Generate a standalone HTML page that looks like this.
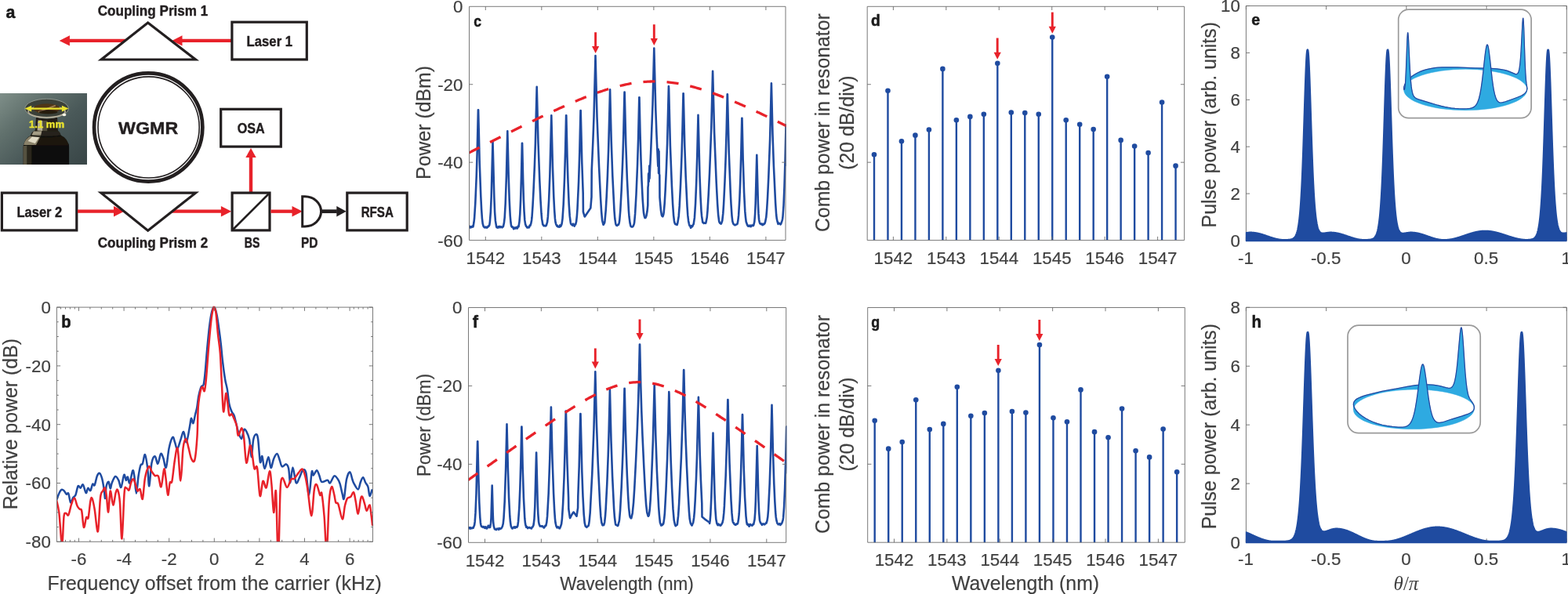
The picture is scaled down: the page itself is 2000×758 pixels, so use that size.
<!DOCTYPE html>
<html lang="en"><head><meta charset="utf-8"><title>Figure</title>
<style>
html,body{margin:0;padding:0;background:#fff;}
body{width:2000px;height:758px;overflow:hidden;font-family:"Liberation Sans",sans-serif;}
svg{display:block;}
</style></head><body>
<svg width="2000" height="758" viewBox="0 0 2000 758">
<rect width="2000" height="758" fill="#fff"/>
<g id="panel-a">
<defs>
<linearGradient id="phbg" x1="0" y1="0" x2="1" y2="0.9">
<stop offset="0" stop-color="#7f8f89"/><stop offset="0.3" stop-color="#61716d"/><stop offset="0.6" stop-color="#4a5959"/><stop offset="1" stop-color="#3a4748"/>
</linearGradient>
<linearGradient id="post" x1="0" y1="0" x2="1" y2="0">
<stop offset="0" stop-color="#57523f"/><stop offset="0.1" stop-color="#6f6956"/><stop offset="0.2" stop-color="#2a271d"/><stop offset="0.45" stop-color="#0c0b08"/><stop offset="1" stop-color="#11120e"/>
</linearGradient>
<linearGradient id="sh2" x1="0" y1="0" x2="1" y2="0">
<stop offset="0" stop-color="#6d6753"/><stop offset="0.12" stop-color="#d5cfb8"/><stop offset="0.3" stop-color="#8f8770"/><stop offset="0.5" stop-color="#2a261c"/><stop offset="1" stop-color="#15150f"/>
</linearGradient>
<linearGradient id="neck" x1="0" y1="0" x2="1" y2="0">
<stop offset="0" stop-color="#6a6350"/><stop offset="0.2" stop-color="#c9c2ab"/><stop offset="0.45" stop-color="#6b6450"/><stop offset="0.7" stop-color="#1d1a12"/><stop offset="1" stop-color="#2b2a22"/>
</linearGradient>
<filter id="blur1" x="-10%" y="-10%" width="120%" height="120%"><feGaussianBlur stdDeviation="0.75"/></filter>
<clipPath id="phclip"><rect x="0" y="119" width="111" height="91"/></clipPath>
</defs>
<rect x="0" y="119" width="111" height="91" fill="url(#phbg)"/>
<g clip-path="url(#phclip)"><g filter="url(#blur1)">
<path d="M29.6 213.5 L29.6 187.4 Q29.9 182.5 33.6 180.6 L84.4 180.6 Q88.1 182.5 88.1 187.4 L88.1 213.5 Z" fill="#0c0b08"/>
<path d="M29.6 213.5 L29.6 186.2 L34.6 185.6 L34.6 213.5 Z" fill="#5a5543" opacity="0.95"/>
<path d="M34.6 213.5 L34.6 185.6 L40.4 185.6 L40.4 213.5 Z" fill="#2d2a20" opacity="0.9"/>
<path d="M29.9 185.6 Q31.7 176.3 39.8 172.5 L77.6 172.5 Q85.7 176.3 87.9 185.6 Z" fill="#1a1811"/>
<path d="M30.1 184.9 Q32.0 176.5 39.8 172.9 L52.2 172.9 L46.0 184.9 Z" fill="#8a826b"/>
<path d="M35.5 180.0 L41.0 174.4 L50.3 174.4 L44.8 183.1 Z" fill="#e0dac4"/>
<path d="M38.9 173.5 Q39.8 168.2 44.8 166.3 L73.3 166.3 Q77.0 168.2 77.8 173.5 Z" fill="#25221a"/>
<path d="M40.4 172.5 L42.9 167.6 L53.4 167.0 L52.2 172.5 Z" fill="#a49d85"/>
<path d="M39.2 173.2 Q58.4 176.3 77.6 173.2" stroke="#100e09" stroke-width="1.2" fill="none" opacity="0.9"/>
<path d="M44.8 167.3 L46.0 149.6 Q59.6 153.3 73.0 149.6 L74.0 167.3 Z" fill="#201d15"/>
<path d="M47.5 166.6 L48.5 153.3 L54.4 153.9 L54.4 167.0 Z" fill="#b3ac96"/>
<path d="M54.4 167.0 L54.4 153.9 L60.2 153.9 L60.2 167.3 Z" fill="#5d5745" opacity="0.8"/>
<ellipse cx="59.6" cy="138.5" rx="27.8" ry="12.3" fill="#3b4039" stroke="#939c93" stroke-width="0.9"/>
<ellipse cx="59.6" cy="142.5" rx="23.5" ry="7.4" fill="none" stroke="#bcb59e" stroke-width="1.8" opacity="0.9"/>
<ellipse cx="59.6" cy="138.6" rx="17" ry="6.4" fill="#4f3418"/>
<path d="M49.1 142.8 L70.8 134.7" stroke="#b08d5c" stroke-width="1.8" opacity="0.8"/>
<ellipse cx="61.5" cy="143.0" rx="12" ry="2.6" fill="#1e160b" opacity="0.8"/>
<ellipse cx="81.9" cy="146.5" rx="2.4" ry="1.8" fill="#fbf8e8"/>
</g></g>
<path d="M38 138.6H81" stroke="#e9e22e" stroke-width="2.4" fill="none"/>
<path d="M31.6 138.6L40.2 134.7V142.5Z" fill="#e9e22e"/>
<path d="M87.5 138.6L78.9 134.7V142.5Z" fill="#e9e22e"/>
<text x="37" y="163" font-family="'Liberation Sans', sans-serif" font-size="12" font-weight="bold" fill="#e9e22e" stroke="#e9e22e" stroke-width="0.4" stroke-linejoin="round" textLength="45" lengthAdjust="spacingAndGlyphs">1.1 mm</text>
<text x="7.4" y="22.9" font-family="'Liberation Sans', sans-serif" font-size="22.5" font-weight="bold" fill="#1a1a1a" stroke="#1a1a1a" stroke-width="0.55" stroke-linejoin="round" textLength="11.89" lengthAdjust="spacingAndGlyphs">a</text>
<path d="M160 51.9H88.45" stroke="#e8222a" stroke-width="4.3" fill="none"/>
<path d="M88.95 45.2L75.65 51.9L88.95 58.6Z" fill="#e8222a"/>
<path d="M296 51.9H232" stroke="#e8222a" stroke-width="4.3" fill="none"/>
<path d="M232.5 45.2L219.2 51.9L232.5 58.6Z" fill="#e8222a"/>
<path d="M188.65 26.9L124.6 77.55L254.1 77.55 Z" fill="#231f20"/>
<path d="M188.67 30.9L133.66 74.4L244.88 74.4 Z" fill="#fff"/>
<text x="124.7" y="20.3" font-family="'Liberation Sans', sans-serif" font-size="17.6" font-weight="bold" fill="#231f20" stroke="#231f20" stroke-width="0.4" stroke-linejoin="round" textLength="140.6" lengthAdjust="spacingAndGlyphs">Coupling Prism 1</text>
<rect x="295.9" y="28.2" width="95.4" height="47.75" fill="#fff" stroke="#231f20" stroke-width="3.2"/>
<text x="314.6" y="58.9" font-family="'Liberation Sans', sans-serif" font-size="17.6" font-weight="bold" fill="#231f20" stroke="#231f20" stroke-width="0.4" stroke-linejoin="round" textLength="58.5" lengthAdjust="spacingAndGlyphs">Laser 1</text>
<circle cx="189.2" cy="162.45" r="69.15" fill="#fff" stroke="#231f20" stroke-width="4.7"/>
<circle cx="189.6" cy="162.45" r="64.6" fill="none" stroke="#231f20" stroke-width="1.6"/>
<text x="151.1" y="170.9" font-family="'Liberation Sans', sans-serif" font-size="21.7" font-weight="bold" fill="#231f20" stroke="#231f20" stroke-width="0.4" stroke-linejoin="round" textLength="76.2" lengthAdjust="spacingAndGlyphs">WGMR</text>
<rect x="281.7" y="139.3" width="76.6" height="47.8" fill="#fff" stroke="#231f20" stroke-width="3.2"/>
<text x="302.7" y="170.1" font-family="'Liberation Sans', sans-serif" font-size="17.6" font-weight="bold" fill="#231f20" stroke="#231f20" stroke-width="0.4" stroke-linejoin="round" textLength="35" lengthAdjust="spacingAndGlyphs">OSA</text>
<path d="M320 246V200.4" stroke="#e8222a" stroke-width="4.4" fill="none"/>
<path d="M313.3 200.9L320 188.9L326.7 200.9Z" fill="#e8222a"/>
<rect x="2.4" y="246.1" width="95.4" height="47.8" fill="#fff" stroke="#231f20" stroke-width="3.2"/>
<text x="21.4" y="276.5" font-family="'Liberation Sans', sans-serif" font-size="17.6" font-weight="bold" fill="#231f20" stroke="#231f20" stroke-width="0.4" stroke-linejoin="round" textLength="57.9" lengthAdjust="spacingAndGlyphs">Laser 2</text>
<path d="M99 269.7H145.5" stroke="#e8222a" stroke-width="4.3" fill="none"/>
<path d="M145 263L158.3 269.7L145 276.4Z" fill="#e8222a"/>
<path d="M218 269.7H282.4" stroke="#e8222a" stroke-width="4.3" fill="none"/>
<path d="M281.9 263L295.2 269.7L281.9 276.4Z" fill="#e8222a"/>
<path d="M188.65 296.3L124.4 244.5L254.1 244.5 Z" fill="#231f20"/>
<path d="M188.67 292.27L133.33 247.65L245.04 247.65 Z" fill="#fff"/>
<text x="124.7" y="316.2" font-family="'Liberation Sans', sans-serif" font-size="17.6" font-weight="bold" fill="#231f20" stroke="#231f20" stroke-width="0.4" stroke-linejoin="round" textLength="140.6" lengthAdjust="spacingAndGlyphs">Coupling Prism 2</text>
<rect x="296.1" y="246.1" width="47.9" height="47.8" fill="#fff" stroke="#231f20" stroke-width="3.2"/>
<path d="M296.5 293.5L343.6 246.5" stroke="#231f20" stroke-width="2.6" fill="none"/>
<text x="311.75" y="316.2" font-family="'Liberation Sans', sans-serif" font-size="17.6" font-weight="bold" fill="#231f20" stroke="#231f20" stroke-width="0.4" stroke-linejoin="round" textLength="19.6" lengthAdjust="spacingAndGlyphs">BS</text>
<path d="M345.4 269.7H373" stroke="#e8222a" stroke-width="4.3" fill="none"/>
<path d="M372.5 263L385.8 269.7L372.5 276.4Z" fill="#e8222a"/>
<path d="M385.7 250.8H389A20.6 19.05 0 0 1 389 288.9H385.7Z" fill="#fff" stroke="#231f20" stroke-width="3" stroke-linejoin="miter"/>
<text x="383.9" y="316.2" font-family="'Liberation Sans', sans-serif" font-size="17.6" font-weight="bold" fill="#231f20" stroke="#231f20" stroke-width="0.4" stroke-linejoin="round" textLength="21.5" lengthAdjust="spacingAndGlyphs">PD</text>
<path d="M410.5 269.7H429.8" stroke="#231f20" stroke-width="4.7" fill="none"/>
<path d="M429.3 263L441.7 269.7L429.3 276.4Z" fill="#231f20"/>
<rect x="442.8" y="246.1" width="76.4" height="47.8" fill="#fff" stroke="#231f20" stroke-width="3.2"/>
<text x="460.7" y="276.7" font-family="'Liberation Sans', sans-serif" font-size="17.6" font-weight="bold" fill="#231f20" stroke="#231f20" stroke-width="0.4" stroke-linejoin="round" textLength="41.2" lengthAdjust="spacingAndGlyphs">RFSA</text>
</g>
<g id="panel-b">
<clipPath id="clipb"><rect x="72.4" y="390.1" width="404.1" height="301.2"/></clipPath>
<g clip-path="url(#clipb)">
<path d="M72.11 638.14C72.64 636.74 74.22 631.92 75.28 629.7C76.33 627.48 77.39 625.44 78.44 624.85C79.5 624.25 80.55 625.13 81.61 626.11C82.66 627.1 83.82 630.16 84.77 630.76C85.72 631.35 86.43 627.94 87.31 629.7C88.19 631.46 89.07 640.43 90.05 641.31C91.04 642.19 92.16 636.56 93.22 634.98C94.27 633.39 95.33 634.27 96.38 631.81C97.44 629.35 98.49 621.72 99.55 620.2C100.6 618.69 101.66 623.02 102.71 622.74C103.77 622.45 104.72 617.46 105.88 618.51C107.04 619.57 108.62 628.36 109.68 629.07C110.73 629.77 111.26 623.23 112.21 622.74C113.16 622.24 114.39 626.96 115.38 626.11C116.36 625.27 117.24 618.83 118.12 617.67C119 616.51 119.7 620.84 120.65 619.15C121.6 617.46 122.76 610.07 123.82 607.54C124.88 605.01 125.93 603.42 126.99 603.95C128.04 604.48 129.2 607.29 130.15 610.7C131.1 614.12 132.02 620.2 132.68 624.42C133.35 628.64 133.67 636.74 134.16 636.03C134.65 635.33 134.9 623.72 135.64 620.2C136.38 616.68 137.75 614.4 138.59 614.93C139.44 615.45 140 623.19 140.7 623.37C141.41 623.54 141.76 618.55 142.82 615.98C143.87 613.41 145.63 608.49 147.04 607.96C148.44 607.43 150.03 610.49 151.26 612.82C152.49 615.14 153.26 623.05 154.42 621.89C155.58 620.73 157.17 607.36 158.22 605.85C159.28 604.34 159.98 612.36 160.76 612.82C161.53 613.27 162.09 608 162.87 608.59C163.64 609.19 164.34 617.74 165.4 616.4C166.45 615.07 168.21 602.05 169.2 600.57C170.18 599.1 170.53 602.68 171.31 607.54C172.08 612.39 172.96 629.7 173.84 629.7C174.72 629.7 175.67 613.52 176.59 607.54C177.5 601.56 178.45 596.46 179.33 593.82C180.21 591.18 180.91 594 181.86 591.71C182.81 589.42 183.97 579.22 185.03 580.1C186.08 580.98 187.31 590.3 188.19 596.99C189.07 603.67 189.42 621.26 190.3 620.2C191.18 619.15 192.24 596.99 193.47 590.65C194.7 584.32 196.39 582.04 197.69 582.21C198.99 582.39 200.05 592.24 201.28 591.71C202.51 591.18 203.92 580.28 205.08 579.05C206.24 577.81 207.12 581.4 208.24 584.32C209.37 587.24 210.6 598.67 211.83 596.56C213.06 594.45 214.22 578.1 215.63 571.66C217.04 565.22 219.04 559.17 220.27 557.94C221.51 556.71 222.03 561.81 223.02 564.27C224 566.73 224.95 573.24 226.18 572.71C227.42 572.19 229.07 564.73 230.41 561.11C231.74 557.48 232.97 550.45 234.2 550.98C235.44 551.5 236.49 565.4 237.79 564.27C239.09 563.15 241 549.3 242.01 544.22C243.03 539.14 243.14 534.48 243.87 533.8C244.6 533.11 245.52 541.01 246.4 540.13C247.28 539.25 248.34 531.86 249.15 528.52C249.96 525.18 250.55 523.95 251.26 520.08C251.96 516.21 252.49 509.7 253.37 505.3C254.25 500.91 255.48 496.16 256.53 493.7C257.59 491.23 258.82 493.87 259.7 490.53C260.58 487.19 261.11 480.68 261.81 473.64C262.51 466.61 263.04 457.82 263.92 448.32C264.8 438.82 266.03 425.1 267.09 416.66C268.14 408.22 269.2 401.71 270.25 397.66C271.31 393.62 272.36 391.68 273.42 392.39C274.47 393.09 275.53 396.78 276.59 401.88C277.64 406.99 278.87 416.66 279.75 422.99C280.63 429.32 281.16 433.54 281.86 439.88C282.57 446.21 283.09 453.59 283.97 460.98C284.85 468.37 286.15 478.22 287.14 484.2C288.12 490.18 289 491.59 289.88 496.86C290.76 502.14 291.46 511.11 292.41 515.86C293.36 520.61 294.53 522.89 295.58 525.35C296.64 527.82 297.69 527.64 298.75 530.63C299.8 533.62 301.07 539.97 301.91 543.29C302.75 546.61 302.76 547.76 303.77 550.55C304.78 553.35 306.76 560.4 307.99 560.05C309.22 559.7 310.1 550.03 311.16 548.44C312.21 546.86 313.16 548.44 314.32 550.55C315.48 552.66 317.07 555.65 318.12 561.11C319.18 566.56 319.81 583.27 320.65 583.27C321.5 583.27 322.2 565.93 323.19 561.11C324.17 556.29 325.58 554.53 326.56 554.35C327.55 554.18 328.22 554.18 329.1 560.05C329.98 565.93 330.96 585.91 331.84 589.6C332.72 593.29 333.42 580.8 334.37 582.21C335.32 583.62 336.2 597.87 337.54 598.04C338.88 598.22 341.06 583.44 342.39 583.27C343.73 583.09 344.43 596.63 345.56 596.99C346.68 597.34 347.85 588.37 349.15 585.38C350.45 582.39 352.14 578.87 353.37 579.05C354.6 579.22 355.48 583.72 356.53 586.43C357.59 589.14 358.29 594.31 359.7 595.3C361.11 596.28 363.57 591.89 364.98 592.34C366.38 592.8 367.26 594.1 368.14 598.04C369.02 601.98 369.37 616.23 370.25 615.98C371.13 615.74 372.19 596.56 373.42 596.56C374.65 596.56 376.23 613.8 377.64 615.98C379.05 618.16 380.45 612.29 381.86 609.65C383.27 607.01 384.68 601.21 386.08 600.15C387.49 599.1 388.97 598.04 390.3 603.32C391.64 608.59 392.87 631.99 394.1 631.81C395.33 631.64 396.74 606.48 397.69 602.26C398.64 598.04 398.75 606.84 399.8 606.48C400.86 606.13 402.79 600.15 404.02 600.15C405.25 600.15 406.13 604.02 407.19 606.48C408.24 608.95 408.6 613.87 410.35 614.93C412.11 615.98 415.98 612.57 417.74 612.82C419.5 613.06 419.5 617.28 420.91 616.4C422.31 615.52 424.6 608.49 426.18 607.54C427.77 606.59 429.17 609.12 430.41 610.7C431.64 612.29 432.52 613.69 433.57 617.04C434.63 620.38 435.86 627.59 436.74 630.76C437.62 633.92 437.97 639.2 438.85 636.03C439.73 632.87 440.78 617.39 442.01 611.76C443.24 606.13 445 602.26 446.23 602.26C447.47 602.26 448.52 609.3 449.4 611.76C450.28 614.22 450.28 614.93 451.51 617.04C452.74 619.15 455.38 624.78 456.79 624.42C458.19 624.07 458.9 617.46 459.95 614.93C461.01 612.39 462.06 609.05 463.12 609.23C464.17 609.4 465.23 613.98 466.29 615.98C467.34 617.99 468.57 618.44 469.45 621.26C470.33 624.07 470.68 632.34 471.56 632.87C472.44 633.39 474.2 625.83 474.73 624.42" fill="none" stroke="#1f4ba0" stroke-width="2.5" stroke-linejoin="round"/>
<path d="M72.11 638.14C72.64 640.78 74.29 645.71 75.28 653.97C76.26 662.24 77.42 681.23 78.02 687.74C78.62 694.25 78.55 693.02 78.86 693.02C79.18 693.02 79.46 693.55 79.92 687.74C80.38 681.94 80.87 663.65 81.61 658.19C82.35 652.74 83.4 655.2 84.35 655.03C85.3 654.85 86.18 659.07 87.31 657.14C88.43 655.2 89.84 647.04 91.11 643.42C92.37 639.8 93.67 635.05 94.91 635.4C96.14 635.75 97.37 643.14 98.49 645.53C99.62 647.92 100.71 648.7 101.66 649.75C102.61 650.81 103.31 647.99 104.19 651.86C105.07 655.73 105.95 671.56 106.94 672.97C107.92 674.37 109.15 662.34 110.1 660.3C111.05 658.26 111.75 664.24 112.63 660.73C113.51 657.21 114.57 643.31 115.38 639.2C116.19 635.08 116.61 634.27 117.49 636.03C118.37 637.79 119.42 642.72 120.65 649.75C121.89 656.79 123.64 680.71 124.88 678.24C126.11 675.78 126.99 643.6 128.04 634.98C129.1 626.36 130.22 628.57 131.21 626.53C132.19 624.49 133.18 621.68 133.95 622.74C134.72 623.79 135.15 627.73 135.85 632.87C136.55 638 137.36 654.61 138.17 653.55C138.98 652.49 139.68 628.05 140.7 626.53C141.73 625.02 143.13 644.12 144.29 644.47C145.45 644.83 146.68 631.81 147.67 628.64C148.65 625.48 149.32 623.37 150.2 625.48C151.08 627.59 152.07 631 152.95 641.31C153.83 651.62 154.53 689.43 155.48 687.32C156.43 685.21 157.7 639.41 158.64 628.64C159.59 617.88 160.19 623.26 161.18 622.74C162.16 622.21 163.57 626.6 164.55 625.48C165.54 624.35 166.14 618.34 167.09 615.98C168.04 613.62 169.2 610.63 170.25 611.34C171.31 612.04 172.54 617.67 173.42 620.2C174.3 622.74 174.65 625.83 175.53 626.53C176.41 627.24 177.64 622.74 178.7 624.42C179.75 626.11 180.81 639.13 181.86 636.67C182.92 634.2 183.69 616.54 185.03 609.65C186.36 602.76 188.47 596.63 189.88 595.3C191.29 593.96 192.17 599.66 193.47 601.63C194.77 603.6 196.28 606.13 197.69 607.12C199.1 608.1 200.61 605.18 201.91 607.54C203.21 609.9 204.27 622.74 205.5 621.26C206.73 619.78 208.31 600.61 209.3 598.67C210.28 596.74 210.6 604.13 211.41 609.65C212.22 615.17 213.27 630.76 214.15 631.81C215.03 632.87 215.81 618.97 216.69 615.98C217.57 612.99 218.37 618.8 219.43 613.87C220.49 608.95 221.82 593.29 223.02 586.43C224.21 579.57 225.37 568.21 226.61 572.71C227.84 577.22 229.24 613.62 230.41 613.45C231.57 613.27 232.45 580.56 233.57 571.66C234.7 562.76 236 560.05 237.16 560.05C238.32 560.05 239.38 567.44 240.54 571.66C241.7 575.88 242.82 582.85 244.12 585.38C245.43 587.91 247.11 591.6 248.35 586.86C249.58 582.11 250.78 568.01 251.51 556.88C252.24 545.76 252.07 529.55 252.74 520.08C253.4 510.6 254.56 504.42 255.48 500.03C256.39 495.63 257.34 493.87 258.22 493.7C259.1 493.52 259.98 500.56 260.76 498.97C261.53 497.39 261.99 493.34 262.87 484.2C263.75 475.05 264.98 456.41 266.03 444.1C267.09 431.78 268.25 418.59 269.2 410.33C270.15 402.06 271.03 397.49 271.73 394.5C272.43 391.51 272.79 391.51 273.42 392.39C274.05 393.27 274.76 393.97 275.53 399.77C276.3 405.58 277.18 418.77 278.06 427.21C278.94 435.65 280 439.88 280.81 450.43C281.62 460.98 282.21 478.04 282.92 490.53C283.62 503.02 284.15 523.42 285.03 525.35C285.91 527.29 287.31 504.07 288.19 502.14C289.07 500.2 289.6 509.17 290.3 513.75C291.01 518.32 291.54 527.11 292.41 529.58C293.29 532.04 294.53 527.64 295.58 528.52C296.64 529.4 297.69 532.39 298.75 534.85C299.8 537.31 301.07 539.8 301.91 543.29C302.75 546.79 302.69 555.32 303.77 555.83C304.85 556.34 307.18 545.8 308.41 546.33C309.64 546.86 310.17 551.61 311.16 559C312.14 566.38 313.02 589.07 314.32 590.65C315.62 592.24 317.73 570.25 318.97 568.49C320.2 566.73 320.79 575.18 321.71 580.1C322.62 585.03 323.4 595.23 324.45 598.04C325.51 600.86 326.85 591.18 328.04 596.99C329.24 602.79 330.4 630.05 331.63 632.87C332.86 635.68 334.09 615.63 335.43 613.87C336.77 612.11 338.24 624.42 339.65 622.31C341.06 620.2 342.75 601.91 343.87 601.21C345 600.5 345.52 609.3 346.4 618.09C347.28 626.89 348.23 652.57 349.15 653.97C350.06 655.38 351.12 620.91 351.89 626.53C352.66 632.16 353.3 675.43 353.79 687.74C354.28 700.05 354.49 700.41 354.85 700.41C355.2 700.41 355.44 700.41 355.9 687.74C356.36 675.08 356.85 637.44 357.59 624.42C358.33 611.41 358.93 610.07 360.33 609.65C361.74 609.23 364.2 621.54 366.03 621.89C367.86 622.24 369.73 613.62 371.31 611.76C372.89 609.9 373.95 612.11 375.53 610.7C377.11 609.3 379.12 605.32 380.81 603.32C382.49 601.31 384.25 597.97 385.66 598.67C387.07 599.38 388.12 603.25 389.25 607.54C390.37 611.83 391.08 615.98 392.41 624.42C393.75 632.87 395.86 658.19 397.27 658.19C398.68 658.19 399.73 631.04 400.86 624.42C401.98 617.81 402.79 617.28 404.02 618.51C405.25 619.75 407.19 629.95 408.24 631.81C409.3 633.68 409.48 625.3 410.35 629.7C411.23 634.1 412.71 648.52 413.52 658.19C414.33 667.87 414.72 680.71 415.21 687.74C415.7 694.78 416.05 700.41 416.48 700.41C416.9 700.41 417.18 697.94 417.74 687.74C418.3 677.54 418.97 650.28 419.85 639.2C420.73 628.12 421.96 622.66 423.02 621.26C424.07 619.85 425.3 627.41 426.18 630.76C427.06 634.1 427.42 639.2 428.29 641.31C429.17 643.42 430.05 639.9 431.46 643.42C432.87 646.94 435.33 662.06 436.74 662.41C438.14 662.77 438.85 649.93 439.9 645.53C440.96 641.13 441.84 637.97 443.07 636.03C444.3 634.1 445.95 635.22 447.29 633.92C448.63 632.62 450.03 627.34 451.09 628.22C452.14 629.1 452.67 634.63 453.62 639.2C454.57 643.77 455.73 656.01 456.79 655.66C457.84 655.31 459.07 640.71 459.95 637.09C460.83 633.46 461.18 632.87 462.06 633.92C462.94 634.98 464.28 640.43 465.23 643.42C466.18 646.41 466.71 651.69 467.76 651.86C468.82 652.04 470.58 643.42 471.56 644.47C472.55 645.53 473.07 653.8 473.67 658.19C474.27 662.59 474.9 668.75 475.15 670.86" fill="none" stroke="#e8222a" stroke-width="2.5" stroke-linejoin="round"/>
</g>
<path d="M72.4 392.1H475.5V691.3H72.4ZM100.5 691.3v-4.7M100.5 392.1v4.7M158.1 691.3v-4.7M158.1 392.1v4.7M215.7 691.3v-4.7M215.7 392.1v4.7M273.3 691.3v-4.7M273.3 392.1v4.7M330.9 691.3v-4.7M330.9 392.1v4.7M388.5 691.3v-4.7M388.5 392.1v4.7M446.1 691.3v-4.7M446.1 392.1v4.7M114.9 691.3v-2.4M114.9 392.1v2.4M129.3 691.3v-2.4M129.3 392.1v2.4M143.7 691.3v-2.4M143.7 392.1v2.4M172.5 691.3v-2.4M172.5 392.1v2.4M186.9 691.3v-2.4M186.9 392.1v2.4M201.3 691.3v-2.4M201.3 392.1v2.4M230.1 691.3v-2.4M230.1 392.1v2.4M244.5 691.3v-2.4M244.5 392.1v2.4M258.9 691.3v-2.4M258.9 392.1v2.4M287.7 691.3v-2.4M287.7 392.1v2.4M302.1 691.3v-2.4M302.1 392.1v2.4M316.5 691.3v-2.4M316.5 392.1v2.4M345.3 691.3v-2.4M345.3 392.1v2.4M359.7 691.3v-2.4M359.7 392.1v2.4M374.1 691.3v-2.4M374.1 392.1v2.4M402.9 691.3v-2.4M402.9 392.1v2.4M417.3 691.3v-2.4M417.3 392.1v2.4M431.7 691.3v-2.4M431.7 392.1v2.4M77.5 691.3v-2.4M77.5 392.1v2.4M83.5 691.3v-2.4M83.5 392.1v2.4M89.4 691.3v-2.4M89.4 392.1v2.4M95.3 691.3v-2.4M95.3 392.1v2.4M469.1 691.3v-2.4M469.1 392.1v2.4M463.1 691.3v-2.4M463.1 392.1v2.4M457.2 691.3v-2.4M457.2 392.1v2.4M451.3 691.3v-2.4M451.3 392.1v2.4M72.4 392.1h4.7M475.5 392.1h-4.7M72.4 466.9h4.7M475.5 466.9h-4.7M72.4 541.7h4.7M475.5 541.7h-4.7M72.4 616.5h4.7M475.5 616.5h-4.7M72.4 691.3h4.7M475.5 691.3h-4.7M72.4 410.8h2.4M475.5 410.8h-2.4M72.4 429.5h2.4M475.5 429.5h-2.4M72.4 448.2h2.4M475.5 448.2h-2.4M72.4 485.6h2.4M475.5 485.6h-2.4M72.4 504.3h2.4M475.5 504.3h-2.4M72.4 523h2.4M475.5 523h-2.4M72.4 560.4h2.4M475.5 560.4h-2.4M72.4 579.1h2.4M475.5 579.1h-2.4M72.4 597.8h2.4M475.5 597.8h-2.4M72.4 635.2h2.4M475.5 635.2h-2.4M72.4 653.9h2.4M475.5 653.9h-2.4M72.4 672.6h2.4M475.5 672.6h-2.4" fill="none" stroke="#6a6a6a" stroke-width="0.9"/>
<text transform="translate(100.5 721.1) scale(1 1.025)" font-family="'Liberation Sans', sans-serif" font-size="22.3" text-anchor="middle" fill="#404040" stroke="#404040" stroke-width="0.2" font-weight="normal">-6</text>
<text transform="translate(158.1 721.1) scale(1 1.025)" font-family="'Liberation Sans', sans-serif" font-size="22.3" text-anchor="middle" fill="#404040" stroke="#404040" stroke-width="0.2" font-weight="normal">-4</text>
<text transform="translate(215.7 721.1) scale(1 1.025)" font-family="'Liberation Sans', sans-serif" font-size="22.3" text-anchor="middle" fill="#404040" stroke="#404040" stroke-width="0.2" font-weight="normal">-2</text>
<text transform="translate(273.3 721.1) scale(1 1.025)" font-family="'Liberation Sans', sans-serif" font-size="22.3" text-anchor="middle" fill="#404040" stroke="#404040" stroke-width="0.2" font-weight="normal">0</text>
<text transform="translate(330.9 721.1) scale(1 1.025)" font-family="'Liberation Sans', sans-serif" font-size="22.3" text-anchor="middle" fill="#404040" stroke="#404040" stroke-width="0.2" font-weight="normal">2</text>
<text transform="translate(388.5 721.1) scale(1 1.025)" font-family="'Liberation Sans', sans-serif" font-size="22.3" text-anchor="middle" fill="#404040" stroke="#404040" stroke-width="0.2" font-weight="normal">4</text>
<text transform="translate(446.1 721.1) scale(1 1.025)" font-family="'Liberation Sans', sans-serif" font-size="22.3" text-anchor="middle" fill="#404040" stroke="#404040" stroke-width="0.2" font-weight="normal">6</text>
<text transform="translate(64.8 400) scale(1 1.025)" font-family="'Liberation Sans', sans-serif" font-size="22.3" text-anchor="end" fill="#404040" stroke="#404040" stroke-width="0.2" font-weight="normal">0</text>
<text transform="translate(64.8 474.8) scale(1 1.025)" font-family="'Liberation Sans', sans-serif" font-size="22.3" text-anchor="end" fill="#404040" stroke="#404040" stroke-width="0.2" font-weight="normal">-20</text>
<text transform="translate(64.8 549.6) scale(1 1.025)" font-family="'Liberation Sans', sans-serif" font-size="22.3" text-anchor="end" fill="#404040" stroke="#404040" stroke-width="0.2" font-weight="normal">-40</text>
<text transform="translate(64.8 624.4) scale(1 1.025)" font-family="'Liberation Sans', sans-serif" font-size="22.3" text-anchor="end" fill="#404040" stroke="#404040" stroke-width="0.2" font-weight="normal">-60</text>
<text transform="translate(64.8 699.2) scale(1 1.025)" font-family="'Liberation Sans', sans-serif" font-size="22.3" text-anchor="end" fill="#404040" stroke="#404040" stroke-width="0.2" font-weight="normal">-80</text>
<text transform="translate(273.6 753) scale(1 1.025)" font-family="'Liberation Sans', sans-serif" font-size="24.85" text-anchor="middle" fill="#404040" stroke="#404040" stroke-width="0.2" font-weight="normal">Frequency offset from the carrier (kHz)</text>
<text transform="translate(21.7 541.1) rotate(-90) scale(1 1.025)" font-family="'Liberation Sans', sans-serif" font-size="24.85" text-anchor="middle" fill="#404040" stroke="#404040" stroke-width="0.2" font-weight="normal">Relative power (dB)</text>
<text x="78.2" y="417.9" font-family="'Liberation Sans', sans-serif" font-size="21.4" font-weight="bold" fill="#1a1a1a" stroke="#1a1a1a" stroke-width="0.55" stroke-linejoin="round" textLength="12.29" lengthAdjust="spacingAndGlyphs">b</text>
</g>
<g id="panel-c">
<clipPath id="clipc"><rect x="598.5" y="8.3" width="404.3" height="298.3"/></clipPath>
<g clip-path="url(#clipc)">
<path d="M596.5 289.04L597.1 290.51L597.3 290.58L597.7 290.28L598.3 290.3L598.9 288.85L599.1 288.83L599.7 290.38L599.9 290.46L600.5 290.27L600.9 289.45L601.5 289.93L602.1 289.55L602.5 288.64L602.7 288.56L603.3 289.47L603.7 288.31L604.5 283.53L605.1 278.23L606.3 258.9L607.7 225.49L608.7 193.09L609.9 140.36L610.1 140.36L611.7 207.22L613.3 250.52L614.1 266.89L614.9 278.59L615.7 285.32L616.7 288.81L616.9 289.16L617.3 289.23L617.7 290.08L618.7 290.39L619.7 289.61L620.5 289.98L620.9 290.61L621.1 290.62L621.7 289.74L622.1 289.91L622.7 288.53L622.9 288.4L623.3 288.64L623.5 288.52L624.3 287.13L624.9 282.84L625.9 269.86L626.7 250.63L628.5 180.38L630.3 250.64L631.1 270.31L631.9 281.63L633.1 288.85L633.5 290.1L634.1 289.73L634.7 290.67L635.7 289.11L636.5 290.29L637.5 288.97L638.3 290.08L638.9 289.3L639.1 289.31L639.9 289.68L640.5 290.27L641.3 289.12L641.7 289.49L642.1 288.34L642.9 284.54L643.7 277.56L644.7 259.75L645.9 224.95L647.3 167.29L648.7 224.97L649.7 255.17L650.7 275.11L651.5 284.05L652.1 288.28L652.7 289.45L652.9 289.59L653.3 289.19L653.5 289.24L653.9 290.06L654.3 289.87L654.9 291.7L655.3 292.24L656.1 290.54L656.7 291.35L657.1 291.04L657.5 291.36L658.3 290.03L658.5 290.06L659.3 291.33L659.7 291.5L660.1 290.87L660.7 288.87L660.9 288.81L661.3 289.46L661.5 289.21L662.5 282.83L663.3 272.83L664.1 254.52L664.9 227.48L665.9 182.85L666.1 182.85L667.1 227.48L667.9 254.56L668.5 268.79L669.3 280.88L670.1 285.98L671.1 288.7L671.3 289L671.7 289.07L672.3 290.38L673.3 290.51L674.1 289.72L674.9 290.33L675.7 287.49L676.3 288.13L677.3 285.22L678.1 280.95L678.5 277.24L679.5 262.67L680.5 243.62L681.9 211.14L682.9 182.47L684.7 110.8L686.5 182.47L688.3 230.51L689.5 255.57L690.5 272.22L691.1 279.15L692.3 286.42L692.9 286.88L693.5 288.22L693.9 288.09L694.3 288.25L694.7 288.04L695.3 288.27L695.7 288.09L696.1 288.3L696.9 287.37L698.1 283.39L698.9 276.15L700.1 255.83L701.3 225.01L703.3 147.3L704.9 212.19L706.3 251.39L707.1 267.32L707.9 278.67L708.5 283.37L709.3 286.48L710.5 288.61L710.9 287.96L711.1 287.93L711.7 289.39L712.3 289.36L712.9 289.03L713.5 289.73L714.3 287.39L714.9 288.74L715.1 288.99L715.3 288.88L716.3 286.45L716.7 284.92L717.5 279.09L718.7 260.75L720.1 226.57L721.1 192.27L722.1 147.36L722.3 147.36L723.5 200.07L724.5 232.27L725.7 260.63L726.7 275.64L727.7 283.42L728.1 285.29L728.7 286.46L729.3 286.39L730.1 287.57L731.1 285.59L732.7 288.58L733.5 286.64L733.7 286.38L734.1 286.33L734.3 285.93L735.1 282.68L735.9 275.1L736.5 266.53L738.1 231.67L739.3 193.89L740.5 141.16L740.7 141.16L742.3 208L743.7 246.49L743.9 270.33L745.7 276.27L745.9 276.45L753.3 265.54L754.5 251.28L754.7 217.76L756.3 181.53L757.5 148.99L759.5 71L761.5 148.99L764.1 213.47L765.9 250.14L767.1 270.18L768.1 281.09L769.5 286.73L769.7 286.77L771.1 284.37L771.5 281.7L772.7 268.47L773.7 250.82L774.9 224.47L776.1 192.15L778.1 114.2L779.7 179.21L781.3 224.47L783.5 268.83L784.3 279.06L785.3 285.68L786.1 287.48L787.1 287.87L787.9 286.81L788.7 286.92L788.9 286.77L789.7 284.65L790.3 280.5L791.3 268.29L792.7 242.36L794.3 203L795.3 170.42L796.5 117.66L796.7 117.66L798.3 184.58L799.9 228.82L801.9 268.65L802.5 276.48L803.5 284.41L804.5 288.82L804.9 288.93L805.3 289.41L806.5 289.54L807.1 289.15L807.9 287.97L808.7 286.11L809.1 284.03L810.1 272.94L811.5 248.27L813.1 209.51L814.1 177L815.3 124.26L815.5 124.26L816.5 169.18L817.5 203.62L818.5 229.96L819.7 254.53L820.7 268.28L821.1 272.04L821.7 275.34L822.5 277.99L822.9 278.19L823.5 277.89L824.5 275.24L825.5 269.81L826.3 262.23L826.5 239.2L826.9 236L827.1 222.67L827.3 221.25L827.5 231.75L827.7 231.75L828.3 211.5L828.5 227.79L830.1 194.99L832.5 133.27L834.3 61.6L836.3 139.56L837.5 172.01L839.1 207.8L839.3 211.93L839.5 190.25L839.7 190.75L840.1 221L840.5 193L840.9 222L841.3 223.6L841.5 251.85L842.9 268L843.9 274.31L844.5 275.83L844.9 275.89L845.3 276.29L845.5 276.04L846.3 273.51L846.7 271.12L847.7 259.58L848.7 242.38L849.9 216.02L851.1 182.83L852.9 109.98L853.1 112.68L854.9 186L856.9 236.92L858.1 260.35L859.1 274.86L859.9 281.7L860.5 284.36L861.1 285.81L861.9 286.28L862.9 286.03L863.5 286.98L864.3 284.59L865.7 275.96L866.7 262.92L868.1 234.9L869.5 198.76L870.5 164.2L871.5 119.26L871.7 119.26L873.3 186.18L874.7 225.56L876.5 263.22L877.3 274.89L878.1 281.97L878.9 285.86L879.5 287.81L879.7 288.29L880.3 288.32L881.1 290.76L881.9 288.17L882.9 289.27L883.3 288.72L884.1 286.77L884.7 285.95L885.9 277.93L887.1 259.36L888.3 230.4L889.3 197.23L890.5 146.9L892.5 224.53L893.5 250.47L894.5 269.26L895.1 275.98L896.3 283.88L896.5 283.97L896.9 283.77L897.7 284.94L898.1 284.44L898.5 284.77L899.3 284.68L899.9 284.9L900.3 284.37L900.5 283.65L901.7 277.51L902.5 268.76L903.7 248.71L905.1 219.76L907.3 162.38L909.1 90.7L911.1 168.68L913.7 232.73L915.1 259.64L916.1 273.85L917.1 281.91L917.5 283.4L918.3 284.8L918.9 284.99L919.5 285.59L919.7 285.67L919.9 285.45L921.3 281.45L922.3 272.39L923.1 260.45L924.5 231.3L925.7 199.76L926.7 165.2L927.7 120.26L927.9 120.26L929.7 193.64L931.7 244.78L932.5 260.51L933.5 275.36L934.3 282.37L935.3 285.51L936.9 287.06L937.3 287.22L937.9 287.28L939.1 286.42L940.3 286.06L940.7 285.03L941.3 281.81L942.1 274.95L943.3 255.13L944.3 229.86L945.3 195.65L946.3 150.76L946.5 150.76L947.7 203.44L949.1 245.93L950.3 269.89L950.9 276.74L951.7 283.01L953.3 287.54L954.1 288.54L954.3 288.7L954.9 287.7L955.1 287.68L956.3 288.92L956.5 288.91L957.1 287.57L957.9 289.06L958.9 287.55L959.5 287.87L960.3 287.25L960.9 288.06L961.3 287.17L962.3 283.03L963.1 273.16L963.7 259.79L965.3 197.74L966.9 259.63L967.5 272.9L968.1 280.15L968.7 283.36L969.3 285.17L970.1 285.76L970.7 285.64L971.3 286.32L971.9 285.59L972.7 287.11L972.9 287.1L973.3 286.25L973.7 285.85L974.1 285.89L974.5 286.23L974.7 286.12L975.5 284.98L976.1 283.14L977.3 277.12L978.1 267.97L979.1 251.4L980.3 226.14L982.1 178.07L983.9 106.4L985.5 171.41L986.9 211.82L989.1 258.67L990.1 273.5L990.7 278.64L991.5 282.42L992.5 285.88L993.1 284.61L993.3 284.64L993.7 285.03L994.3 284.95L995.5 286.42L996.1 285.77L997.5 281.9L998.1 279.48L998.5 276.34L999.5 262.11L1000.5 238.15L1001.5 204.32L1002.5 159.46L1002.7 159.46L1003.9 212.09" fill="none" stroke="#1f4ba0" stroke-width="2.6" stroke-linejoin="round" />
<path d="M590 199.18L592 198.17L594 197.15L596 196.14L598 195.12L600 194.11L602 193.09L604 192.08L606 191.07L608 190.05L610 189.04L612 188.03L614 187.02L616 186.01L618 185L620 183.99L622 182.98L624 181.97L626 180.96L628 179.96L630 178.95L632 177.94L634 176.94L636 175.93L638 174.93L640 173.93L642 172.93L644 171.93L646 170.93L648 169.93L650 168.93L652 167.94L654 166.94L656 165.95L658 164.96L660 163.97L662 162.98L664 161.99L666 161L668 160.02L670 159.04L672 158.06L674 157.08L676 156.1L678 155.13L680 154.16L682 153.19L684 152.22L686 151.26L688 150.29L690 149.34L692 148.38L694 147.43L696 146.48L698 145.53L700 144.59L702 143.65L704 142.71L706 141.78L708 140.86L710 139.93L712 139.02L714 138.1L716 137.19L718 136.29L720 135.39L722 134.5L724 133.62L726 132.74L728 131.86L730 131L732 130.14L734 129.28L736 128.44L738 127.6L740 126.77L742 125.95L744 125.14L746 124.34L748 123.54L750 122.76L752 121.98L754 121.22L756 120.47L758 119.73L760 119L762 118.28L764 117.57L766 116.88L768 116.2L770 115.54L772 114.89L774 114.25L776 113.63L778 113.02L780 112.43L782 111.86L784 111.3L786 110.76L788 110.24L790 109.73L792 109.25L794 108.78L796 108.33L798 107.9L800 107.5L802 107.11L804 106.74L806 106.4L808 106.07L810 105.77L812 105.49L814 105.23L816 105L818 104.79L820 104.6L822 104.43L824 104.29L826 104.17L828 104.08L830 104.01L832 103.96L834 103.94L836 103.94L838 103.97L840 104.02L842 104.1L844 104.19L846 104.32L848 104.46L850 104.63L852 104.83L854 105.04L856 105.28L858 105.54L860 105.83L862 106.13L864 106.46L866 106.81L868 107.18L870 107.58L872 107.99L874 108.42L876 108.87L878 109.34L880 109.83L882 110.34L884 110.87L886 111.41L888 111.97L890 112.55L892 113.14L894 113.75L896 114.38L898 115.02L900 115.67L902 116.34L904 117.02L906 117.71L908 118.42L910 119.14L912 119.87L914 120.62L916 121.37L918 122.14L920 122.91L922 123.7L924 124.49L926 125.3L928 126.11L930 126.94L932 127.77L934 128.61L936 129.45L938 130.31L940 131.17L942 132.04L944 132.91L946 133.79L948 134.68L950 135.57L952 136.47L954 137.38L956 138.29L958 139.2L960 140.12L962 141.04L964 141.97L966 142.9L968 143.84L970 144.78L972 145.72L974 146.67L976 147.62L978 148.57L980 149.53L982 150.49L984 151.45L986 152.41L988 153.38L990 154.35L992 155.32L994 156.3L996 157.27L998 158.25L1000 159.23L1002 160.22L1004 161.2L1006 162.19L1008 163.17" fill="none" stroke="#e8222a" stroke-width="3.3" stroke-dasharray="15.1 15.06" stroke-dashoffset="21.07"/>
</g>
<path d="M759.6 41.2V60" stroke="#e8222a" stroke-width="2.9" fill="none"/>
<path d="M755 59L764.2 59L759.6 68Z" fill="#e8222a"/>
<path d="M834.3 31.2V50" stroke="#e8222a" stroke-width="2.9" fill="none"/>
<path d="M829.7 49L838.9 49L834.3 58Z" fill="#e8222a"/>
<path d="M598.5 8.3H1002V306.6H598.5ZM619.3 306.6v-4.7M619.3 8.3v4.7M690.82 306.6v-4.7M690.82 8.3v4.7M762.34 306.6v-4.7M762.34 8.3v4.7M833.86 306.6v-4.7M833.86 8.3v4.7M905.38 306.6v-4.7M905.38 8.3v4.7M976.9 306.6v-4.7M976.9 8.3v4.7M598.5 107.73h4.7M1002 107.73h-4.7M598.5 207.17h4.7M1002 207.17h-4.7" fill="none" stroke="#6a6a6a" stroke-width="0.9"/>
<text transform="translate(619.3 336.9) scale(1 1.025)" font-family="'Liberation Sans', sans-serif" font-size="22.3" text-anchor="middle" fill="#404040" stroke="#404040" stroke-width="0.2" font-weight="normal">1542</text>
<text transform="translate(690.82 336.9) scale(1 1.025)" font-family="'Liberation Sans', sans-serif" font-size="22.3" text-anchor="middle" fill="#404040" stroke="#404040" stroke-width="0.2" font-weight="normal">1543</text>
<text transform="translate(762.34 336.9) scale(1 1.025)" font-family="'Liberation Sans', sans-serif" font-size="22.3" text-anchor="middle" fill="#404040" stroke="#404040" stroke-width="0.2" font-weight="normal">1544</text>
<text transform="translate(833.86 336.9) scale(1 1.025)" font-family="'Liberation Sans', sans-serif" font-size="22.3" text-anchor="middle" fill="#404040" stroke="#404040" stroke-width="0.2" font-weight="normal">1545</text>
<text transform="translate(905.38 336.9) scale(1 1.025)" font-family="'Liberation Sans', sans-serif" font-size="22.3" text-anchor="middle" fill="#404040" stroke="#404040" stroke-width="0.2" font-weight="normal">1546</text>
<text transform="translate(976.9 336.9) scale(1 1.025)" font-family="'Liberation Sans', sans-serif" font-size="22.3" text-anchor="middle" fill="#404040" stroke="#404040" stroke-width="0.2" font-weight="normal">1547</text>
<text transform="translate(590.4 16.2) scale(1 1.025)" font-family="'Liberation Sans', sans-serif" font-size="22.3" text-anchor="end" fill="#404040" stroke="#404040" stroke-width="0.2" font-weight="normal">0</text>
<text transform="translate(590.4 115.63) scale(1 1.025)" font-family="'Liberation Sans', sans-serif" font-size="22.3" text-anchor="end" fill="#404040" stroke="#404040" stroke-width="0.2" font-weight="normal">-20</text>
<text transform="translate(590.4 215.07) scale(1 1.025)" font-family="'Liberation Sans', sans-serif" font-size="22.3" text-anchor="end" fill="#404040" stroke="#404040" stroke-width="0.2" font-weight="normal">-40</text>
<text transform="translate(590.4 314.5) scale(1 1.025)" font-family="'Liberation Sans', sans-serif" font-size="22.3" text-anchor="end" fill="#404040" stroke="#404040" stroke-width="0.2" font-weight="normal">-60</text>
<text x="604.2" y="33.5" font-family="'Liberation Sans', sans-serif" font-size="20.8" font-weight="bold" fill="#1a1a1a" stroke="#1a1a1a" stroke-width="0.55" stroke-linejoin="round" textLength="9.72" lengthAdjust="spacingAndGlyphs">c</text>
<text transform="translate(548.5 156.45) rotate(-90) scale(1 1.025)" font-family="'Liberation Sans', sans-serif" font-size="24.85" text-anchor="middle" fill="#404040" stroke="#404040" stroke-width="0.2" font-weight="normal">Power (dBm)</text>
</g>
<g id="panel-f">
<clipPath id="clipf"><rect x="597.5" y="392.5" width="406" height="299.8"/></clipPath>
<g clip-path="url(#clipf)">
<path d="M595.5 672.74L595.9 672.3L596.1 672.41L596.9 673.69L597.5 674.14L597.9 673.99L598.3 674.1L598.7 673.25L598.9 673.17L599.7 674.67L600.5 673.45L600.9 673.92L601.9 674.17L603.1 673.17L603.7 673.65L605.1 670L605.7 665.89L606.5 654.42L607.5 629.49L609.1 563.26L609.3 563.26L610.3 608.18L611.3 640.87L612.3 660.11L612.9 666.98L613.3 669.32L613.9 671.31L614.3 671.99L614.9 672.25L615.3 672.01L615.9 672.83L616.5 672.07L616.9 672.1L617.7 672.76L618.3 673.89L618.9 672.42L619.5 672.28L620.3 674.34L620.9 674.49L621.5 673.52L621.9 673.28L622.7 670.96L623.1 671.1L623.5 670.88L624.3 673.09L625.1 672.71L625.3 672.13L626.1 667.15L626.5 660.54L627.7 619.45L628.7 656.25L629.1 665.29L629.7 671.17L630.9 675.15L631.5 675.02L632.1 675.8L633.1 676.1L633.7 674.67L633.9 674.61L634.3 675.05L635.1 674.49L635.3 674.53L635.9 675.82L636.9 674.1L637.3 674.26L637.7 675.09L638.9 674.22L639.3 674.42L639.5 674.33L640.1 673.01L640.7 672.29L641.7 668.53L642.5 661.36L643.7 640.1L645.1 599.29L646.5 541.2L647.9 599.28L649.1 635.27L650.3 658.71L650.9 665.53L651.7 671.19L652.9 673.89L653.1 674.2L653.7 674.42L653.9 674.46L654.5 673.41L655.1 673.41L655.7 672.25L656.9 673.73L657.5 672.7L658.3 672.25L658.7 672.26L659.1 672.93L659.3 672.94L660.3 671.17L661.1 665.2L662.3 648L663.3 623.9L664.3 589.76L665.3 544.67L665.5 544.67L666.7 597.56L667.9 634.68L669.3 661.46L669.9 667.28L670.5 670.43L671.3 672.75L672.1 672.19L673.1 674.13L673.5 673.67L674.3 673.57L674.7 673.07L675.1 672.99L676.1 673.37L676.7 674.07L677.3 674.05L677.7 674.51L677.9 674.43L678.7 672.54L679.3 672.52L679.7 671.89L680.5 669.92L680.7 668.82L681.5 662.08L682.3 646.28L684.1 577.65L685.7 640.52L686.3 655.28L687.1 666.05L687.7 668.99L688.9 671.59L690.5 671.2L691.3 671.9L692.1 671.45L692.7 672.37L693.1 672.45L693.7 673.5L693.9 673.51L694.5 672.71L695.3 670.93L695.7 670.74L696.3 670.93L697.3 666.55L698.1 658.64L699.7 629.52L701.3 584.79L702.9 519.5L704.5 584.79L706.1 629.59L707.1 650.06L707.9 661.57L708.5 667.03L709.5 671.45L710.5 673.39L711.1 672.7L711.9 672.3L712.1 672.37L712.9 674L713.9 674.38L714.9 672.28L716.1 668.63L716.9 662.06L718.1 643.27L719.5 610.08L720.5 577.56L721.7 524.57L721.9 524.57L723.5 591.74L725.1 634.93L725.3 649.68L726.9 660.62L727.1 661.11L729.5 656.5L731.5 653.55L731.7 653.54L735.5 658.7L737.1 648.16L737.3 633.75L738.7 595.13L740.3 527.97L740.5 527.97L742.3 601.57L743.5 633.72L744.7 656.31L745.7 667.09L746.7 671.38L746.9 671.83L747.5 671.64L747.7 671.81L748.3 672.82L749.1 671.88L749.5 671.86L750.1 670.96L750.5 671.05L751.1 668.87L751.7 664.87L752.7 654.25L755.3 604.15L757.5 546.44L759.3 474.4L760.9 539.75L762.7 590.27L765.3 644.34L766.3 658.96L767.3 666.72L768.3 669.76L768.7 670.48L769.3 669.6L769.5 669.58L769.9 670.06L770.1 670.08L770.3 669.72L771.1 666.8L771.3 665.38L772.1 657.5L772.7 648.9L774.3 617.31L775.7 581.45L776.7 547.74L777.9 497.1L779.5 562.44L781.1 607.92L783.1 648.84L783.9 659.78L784.9 667.74L785.3 669.56L785.5 669.69L785.9 669.56L786.7 670.51L787.3 670.5L787.9 671.07L788.5 670.18L789.1 667.35L789.7 665.49L790.1 662.83L791.1 650.95L792.7 621.24L794.3 581.62L795.3 548.89L796.5 495.87L796.7 495.87L797.7 541.03L798.7 575.72L799.9 607.31L801.1 632.5L802.1 648.1L803.1 657.38L803.7 659.94L804.9 661.31L805.3 661.16L806.7 654.96L808.1 641.05L809.3 622.38L811.1 587.22L812.7 551.43L813.9 519.4L814.9 484.64L815.9 439.47L816.1 439.47L817.3 492.5L818.3 525.27L819.5 556.21L821.3 595.47L822.9 625.7L824.1 643.54L825.3 654.03L826.7 658.7L827.1 658.68L827.7 657.69L828.7 650.79L829.7 637.58L830.7 618.71L832.9 562.2L834.7 490.2L836.3 555.53L837.9 601.02L840.1 646.36L840.9 657.11L841.9 666.8L843.3 670.59L843.7 670.1L844.7 670.1L845.3 668.76L845.5 668.58L845.9 668.8L846.1 668.39L846.5 666.66L847.3 660.85L847.9 654.6L849.5 625.17L851.1 585.39L852.1 552.18L853.3 499.99L853.5 502.7L854.5 548.25L855.7 588.24L857.1 623.01L858.5 649.88L859.7 663.78L860.9 669.29L861.5 670.86L861.7 671.19L861.9 671.17L862.5 670.19L863.5 669.99L863.9 668.74L865.1 658.18L866.1 643.22L868.9 584.19L870.7 532.55L872.1 472.17L872.3 472.17L873.5 525.2L874.5 558L875.9 593.65L877.7 632L878.9 652.66L879.7 662.04L880.7 667.25L881.1 668.38L881.9 669.43L882.3 670.4L882.5 670.59L882.7 670.26L883.3 668.52L884.1 667.1L885.1 660.95L885.9 652.14L886.7 638.68L887.9 612.45L888.9 585.1L890.9 506.8L892.7 578.8L893.9 612.48L895.3 642.67L895.5 659.58L899.1 662.57L902.9 665.3L904.9 666.44L905.1 668L905.7 664.2L906.3 656.53L907.3 635.13L908.3 603.02L909.5 552.59L911.5 629.72L912.3 648.81L913.3 662.58L914.3 667.81L915.5 670.15L916.3 668.6L917.1 670.27L917.7 669.45L917.9 669.43L918.5 669.9L919.1 670.74L920.3 669.22L921.5 666.98L922.5 662.16L923.3 654.68L923.9 645.88L925.7 606.73L927.1 563.18L928.3 510.17L928.5 510.17L929.5 555.33L930.5 590.03L932.5 638.5L933.5 654.9L934.3 663.28L934.7 665.59L935.1 666.72L935.5 667.28L935.9 667.07L936.5 668.89L937.1 669.02L937.5 669.49L938.3 669.84L938.9 668.89L939.3 669.14L939.9 668.36L940.5 668.65L940.9 668.21L941.3 666.76L942.1 661.82L942.7 655.98L943.7 638.84L944.9 608.79L945.9 574.31L946.9 529.17L947.1 529.17L948.7 596.31L950.1 634.77L951.5 658.55L952.3 666.26L952.9 669.14L953.3 668.47L953.5 668.44L954.1 670.02L954.7 669.24L955.5 671.72L955.7 671.56L956.3 669.65L956.9 668.97L957.3 669.11L958.1 670.29L958.5 670.42L959.1 670.29L959.5 670.63L960.5 668.92L961.1 669.21L961.3 668.74L962.5 663.07L963.3 652.74L963.9 638.59L965.7 568.97L967.5 638.6L968.1 652.55L968.9 663.09L969.1 664.33L969.9 666.8L971.9 669.8L972.5 668.63L973.1 668.94L973.5 668.46L973.9 668.41L974.9 669.32L975.5 669L976.1 668.36L976.5 668.34L976.9 667.38L977.5 667.49L978.5 664.39L979.3 659.52L980.1 649.87L981.7 617.2L983.1 575.09L984.5 516.9L985.9 575.1L987.3 617.23L988.3 639.53L989.1 652.98L989.7 659.67L990.5 664.48L991.5 668L991.9 668.24L992.7 669.32L993.5 668.51L993.7 668.44L994.1 668.83L994.5 668.33L994.7 668.34L995.1 669.8L995.3 669.98L995.7 668.8L996.3 669.01L997.3 667.59L998.7 663.39L999.1 660.65L1000.1 646.93L1001.1 623.39L1002.1 589.53L1003.1 544.47L1003.3 544.47L1004.7 604.55" fill="none" stroke="#1f4ba0" stroke-width="2.6" stroke-linejoin="round" />
<path d="M590 617.61L592 616.19L594 614.77L596 613.34L598 611.92L600 610.5L602 609.08L604 607.66L606 606.23L608 604.81L610 603.39L612 601.97L614 600.55L616 599.13L618 597.71L620 596.29L622 594.87L624 593.45L626 592.03L628 590.62L630 589.2L632 587.78L634 586.36L636 584.95L638 583.53L640 582.12L642 580.7L644 579.29L646 577.88L648 576.46L650 575.05L652 573.64L654 572.23L656 570.82L658 569.42L660 568.01L662 566.61L664 565.2L666 563.8L668 562.4L670 561L672 559.6L674 558.2L676 556.81L678 555.42L680 554.03L682 552.64L684 551.26L686 549.87L688 548.49L690 547.12L692 545.74L694 544.37L696 543.01L698 541.64L700 540.28L702 538.93L704 537.58L706 536.23L708 534.89L710 533.56L712 532.23L714 530.9L716 529.59L718 528.28L720 526.97L722 525.68L724 524.39L726 523.11L728 521.85L730 520.59L732 519.34L734 518.1L736 516.87L738 515.66L740 514.46L742 513.27L744 512.1L746 510.94L748 509.8L750 508.67L752 507.57L754 506.48L756 505.41L758 504.36L760 503.33L762 502.33L764 501.35L766 500.39L768 499.46L770 498.56L772 497.68L774 496.83L776 496.02L778 495.23L780 494.48L782 493.76L784 493.07L786 492.43L788 491.81L790 491.24L792 490.7L794 490.21L796 489.75L798 489.34L800 488.97L802 488.64L804 488.36L806 488.12L808 487.93L810 487.78L812 487.67L814 487.61L816 487.6L818 487.63L820 487.71L822 487.84L824 488.01L826 488.22L828 488.48L830 488.79L832 489.13L834 489.52L836 489.95L838 490.43L840 490.94L842 491.49L844 492.08L846 492.71L848 493.38L850 494.08L852 494.81L854 495.58L856 496.38L858 497.21L860 498.07L862 498.96L864 499.88L866 500.82L868 501.79L870 502.78L872 503.79L874 504.83L876 505.89L878 506.97L880 508.06L882 509.18L884 510.31L886 511.46L888 512.62L890 513.8L892 515L894 516.2L896 517.42L898 518.66L900 519.9L902 521.15L904 522.42L906 523.69L908 524.97L910 526.26L912 527.56L914 528.86L916 530.18L918 531.5L920 532.82L922 534.16L924 535.49L926 536.84L928 538.18L930 539.54L932 540.89L934 542.25L936 543.62L938 544.99L940 546.36L942 547.74L944 549.11L946 550.5L948 551.88L950 553.27L952 554.65L954 556.04L956 557.44L958 558.83L960 560.23L962 561.63L964 563.03L966 564.43L968 565.83L970 567.24L972 568.64L974 570.05L976 571.46L978 572.87L980 574.28L982 575.69L984 577.1L986 578.51L988 579.93L990 581.34L992 582.75L994 584.17L996 585.59L998 587L1000 588.42L1002 589.84L1004 591.25L1006 592.67L1008 594.09L1010 595.51" fill="none" stroke="#e8222a" stroke-width="3.3" stroke-dasharray="15.1 15.06" stroke-dashoffset="21.6"/>
</g>
<path d="M759.3 444.5V462.5" stroke="#e8222a" stroke-width="2.9" fill="none"/>
<path d="M754.7 461.5L763.9 461.5L759.3 470.5Z" fill="#e8222a"/>
<path d="M816 407.5V426" stroke="#e8222a" stroke-width="2.9" fill="none"/>
<path d="M811.4 425L820.6 425L816 434Z" fill="#e8222a"/>
<path d="M597.5 392.5H1002.7V692.3H597.5ZM618.5 692.3v-4.7M618.5 392.5v4.7M690.36 692.3v-4.7M690.36 392.5v4.7M762.22 692.3v-4.7M762.22 392.5v4.7M834.08 692.3v-4.7M834.08 392.5v4.7M905.94 692.3v-4.7M905.94 392.5v4.7M977.8 692.3v-4.7M977.8 392.5v4.7M597.5 492.43h4.7M1002.7 492.43h-4.7M597.5 592.37h4.7M1002.7 592.37h-4.7" fill="none" stroke="#6a6a6a" stroke-width="0.9"/>
<text transform="translate(618.5 722.6) scale(1 1.025)" font-family="'Liberation Sans', sans-serif" font-size="22.3" text-anchor="middle" fill="#404040" stroke="#404040" stroke-width="0.2" font-weight="normal">1542</text>
<text transform="translate(690.36 722.6) scale(1 1.025)" font-family="'Liberation Sans', sans-serif" font-size="22.3" text-anchor="middle" fill="#404040" stroke="#404040" stroke-width="0.2" font-weight="normal">1543</text>
<text transform="translate(762.22 722.6) scale(1 1.025)" font-family="'Liberation Sans', sans-serif" font-size="22.3" text-anchor="middle" fill="#404040" stroke="#404040" stroke-width="0.2" font-weight="normal">1544</text>
<text transform="translate(834.08 722.6) scale(1 1.025)" font-family="'Liberation Sans', sans-serif" font-size="22.3" text-anchor="middle" fill="#404040" stroke="#404040" stroke-width="0.2" font-weight="normal">1545</text>
<text transform="translate(905.94 722.6) scale(1 1.025)" font-family="'Liberation Sans', sans-serif" font-size="22.3" text-anchor="middle" fill="#404040" stroke="#404040" stroke-width="0.2" font-weight="normal">1546</text>
<text transform="translate(977.8 722.6) scale(1 1.025)" font-family="'Liberation Sans', sans-serif" font-size="22.3" text-anchor="middle" fill="#404040" stroke="#404040" stroke-width="0.2" font-weight="normal">1547</text>
<text transform="translate(589.4 400.4) scale(1 1.025)" font-family="'Liberation Sans', sans-serif" font-size="22.3" text-anchor="end" fill="#404040" stroke="#404040" stroke-width="0.2" font-weight="normal">0</text>
<text transform="translate(589.4 500.33) scale(1 1.025)" font-family="'Liberation Sans', sans-serif" font-size="22.3" text-anchor="end" fill="#404040" stroke="#404040" stroke-width="0.2" font-weight="normal">-20</text>
<text transform="translate(589.4 600.27) scale(1 1.025)" font-family="'Liberation Sans', sans-serif" font-size="22.3" text-anchor="end" fill="#404040" stroke="#404040" stroke-width="0.2" font-weight="normal">-40</text>
<text transform="translate(589.4 700.2) scale(1 1.025)" font-family="'Liberation Sans', sans-serif" font-size="22.3" text-anchor="end" fill="#404040" stroke="#404040" stroke-width="0.2" font-weight="normal">-60</text>
<text x="602.8" y="418" font-family="'Liberation Sans', sans-serif" font-size="21.7" font-weight="bold" fill="#1a1a1a" stroke="#1a1a1a" stroke-width="0.55" stroke-linejoin="round" textLength="7.23" lengthAdjust="spacingAndGlyphs">f</text>
<text transform="translate(548.5 542.4) rotate(-90) scale(1 1.025)" font-family="'Liberation Sans', sans-serif" font-size="22.5" text-anchor="middle" fill="#404040" stroke="#404040" stroke-width="0.2" font-weight="normal">Power (dBm)</text>
<text transform="translate(799.5 752.5) scale(1 1.025)" font-family="'Liberation Sans', sans-serif" font-size="22.5" text-anchor="middle" fill="#404040" stroke="#404040" stroke-width="0.2" font-weight="normal">Wavelength (nm)</text>
</g>
<g id="panel-d">
<path d="M1115 306.6V197.31M1132.48 306.6V115.7M1149.96 306.6V180.27M1167.44 306.6V172.65M1184.92 306.6V165.47M1202.4 306.6V87.89M1219.88 306.6V153.36M1237.36 306.6V148.88M1254.84 306.6V145.74M1272.32 306.6V80.72M1289.8 306.6V143.5M1307.28 306.6V143.95M1324.76 306.6V145.74M1342.24 306.6V47.53M1359.72 306.6V153.36M1377.2 306.6V158.74M1394.68 306.6V165.02M1412.16 306.6V97.76M1429.64 306.6V178.92M1447.12 306.6V186.55M1464.6 306.6V195.07M1482.08 306.6V130.49M1499.56 306.6V211.66" fill="none" stroke="#1f4ba0" stroke-width="2.4"/>
<circle cx="1115" cy="197.31" r="3.3" fill="#1f4ba0"/>
<circle cx="1132.48" cy="115.7" r="3.3" fill="#1f4ba0"/>
<circle cx="1149.96" cy="180.27" r="3.3" fill="#1f4ba0"/>
<circle cx="1167.44" cy="172.65" r="3.3" fill="#1f4ba0"/>
<circle cx="1184.92" cy="165.47" r="3.3" fill="#1f4ba0"/>
<circle cx="1202.4" cy="87.89" r="3.3" fill="#1f4ba0"/>
<circle cx="1219.88" cy="153.36" r="3.3" fill="#1f4ba0"/>
<circle cx="1237.36" cy="148.88" r="3.3" fill="#1f4ba0"/>
<circle cx="1254.84" cy="145.74" r="3.3" fill="#1f4ba0"/>
<circle cx="1272.32" cy="80.72" r="3.3" fill="#1f4ba0"/>
<circle cx="1289.8" cy="143.5" r="3.3" fill="#1f4ba0"/>
<circle cx="1307.28" cy="143.95" r="3.3" fill="#1f4ba0"/>
<circle cx="1324.76" cy="145.74" r="3.3" fill="#1f4ba0"/>
<circle cx="1342.24" cy="47.53" r="3.3" fill="#1f4ba0"/>
<circle cx="1359.72" cy="153.36" r="3.3" fill="#1f4ba0"/>
<circle cx="1377.2" cy="158.74" r="3.3" fill="#1f4ba0"/>
<circle cx="1394.68" cy="165.02" r="3.3" fill="#1f4ba0"/>
<circle cx="1412.16" cy="97.76" r="3.3" fill="#1f4ba0"/>
<circle cx="1429.64" cy="178.92" r="3.3" fill="#1f4ba0"/>
<circle cx="1447.12" cy="186.55" r="3.3" fill="#1f4ba0"/>
<circle cx="1464.6" cy="195.07" r="3.3" fill="#1f4ba0"/>
<circle cx="1482.08" cy="130.49" r="3.3" fill="#1f4ba0"/>
<circle cx="1499.56" cy="211.66" r="3.3" fill="#1f4ba0"/>
<path d="M1272.2 48.5V67.8" stroke="#e8222a" stroke-width="2.9" fill="none"/>
<path d="M1267.6 66.8L1276.8 66.8L1272.2 75.8Z" fill="#e8222a"/>
<path d="M1342.3 15.6V34.8" stroke="#e8222a" stroke-width="2.9" fill="none"/>
<path d="M1337.7 33.8L1346.9 33.8L1342.3 42.8Z" fill="#e8222a"/>
<path d="M1106.2 8.3H1510.6V306.6H1106.2ZM1139.4 306.6v-4.7M1139.4 8.3v4.7M1206.84 306.6v-4.7M1206.84 8.3v4.7M1274.28 306.6v-4.7M1274.28 8.3v4.7M1341.72 306.6v-4.7M1341.72 8.3v4.7M1409.16 306.6v-4.7M1409.16 8.3v4.7M1476.6 306.6v-4.7M1476.6 8.3v4.7M1106.2 107.73h4.7M1510.6 107.73h-4.7M1106.2 207.17h4.7M1510.6 207.17h-4.7" fill="none" stroke="#6a6a6a" stroke-width="0.9"/>
<text transform="translate(1139.4 336.9) scale(1 1.025)" font-family="'Liberation Sans', sans-serif" font-size="22.3" text-anchor="middle" fill="#404040" stroke="#404040" stroke-width="0.2" font-weight="normal">1542</text>
<text transform="translate(1206.84 336.9) scale(1 1.025)" font-family="'Liberation Sans', sans-serif" font-size="22.3" text-anchor="middle" fill="#404040" stroke="#404040" stroke-width="0.2" font-weight="normal">1543</text>
<text transform="translate(1274.28 336.9) scale(1 1.025)" font-family="'Liberation Sans', sans-serif" font-size="22.3" text-anchor="middle" fill="#404040" stroke="#404040" stroke-width="0.2" font-weight="normal">1544</text>
<text transform="translate(1341.72 336.9) scale(1 1.025)" font-family="'Liberation Sans', sans-serif" font-size="22.3" text-anchor="middle" fill="#404040" stroke="#404040" stroke-width="0.2" font-weight="normal">1545</text>
<text transform="translate(1409.16 336.9) scale(1 1.025)" font-family="'Liberation Sans', sans-serif" font-size="22.3" text-anchor="middle" fill="#404040" stroke="#404040" stroke-width="0.2" font-weight="normal">1546</text>
<text transform="translate(1476.6 336.9) scale(1 1.025)" font-family="'Liberation Sans', sans-serif" font-size="22.3" text-anchor="middle" fill="#404040" stroke="#404040" stroke-width="0.2" font-weight="normal">1547</text>
<text x="1110.9" y="33.1" font-family="'Liberation Sans', sans-serif" font-size="20.6" font-weight="bold" fill="#1a1a1a" stroke="#1a1a1a" stroke-width="0.55" stroke-linejoin="round" textLength="11.83" lengthAdjust="spacingAndGlyphs">d</text>
<text transform="translate(1057.6 156.65) rotate(-90) scale(1 1.025)" font-family="'Liberation Sans', sans-serif" font-size="24.85" text-anchor="middle" fill="#404040" stroke="#404040" stroke-width="0.2" font-weight="normal">Comb power in resonator</text>
<text transform="translate(1089.3 156.65) rotate(-90) scale(1 1.025)" font-family="'Liberation Sans', sans-serif" font-size="24.85" text-anchor="middle" fill="#404040" stroke="#404040" stroke-width="0.2" font-weight="normal">(20 dB/div)</text>
</g>
<g id="panel-g">
<path d="M1115.7 692.2V536.83M1133.22 692.2V572.65M1150.74 692.2V563.95M1168.26 692.2V510.21M1185.78 692.2V548.08M1203.3 692.2V540.92M1220.82 692.2V493.84M1238.34 692.2V530.68M1255.86 692.2V527.1M1273.38 692.2V472.85M1290.9 692.2V525.05M1308.42 692.2V526.59M1325.94 692.2V440.1M1343.46 692.2V533.24M1360.98 692.2V538.36M1378.5 692.2V497.42M1396.02 692.2V551.16M1413.54 692.2V558.32M1431.06 692.2V521.47M1448.58 692.2V575.21M1466.1 692.2V583.4M1483.62 692.2V547.57M1501.14 692.2V602.33" fill="none" stroke="#1f4ba0" stroke-width="2.4"/>
<circle cx="1115.7" cy="536.83" r="3.3" fill="#1f4ba0"/>
<circle cx="1133.22" cy="572.65" r="3.3" fill="#1f4ba0"/>
<circle cx="1150.74" cy="563.95" r="3.3" fill="#1f4ba0"/>
<circle cx="1168.26" cy="510.21" r="3.3" fill="#1f4ba0"/>
<circle cx="1185.78" cy="548.08" r="3.3" fill="#1f4ba0"/>
<circle cx="1203.3" cy="540.92" r="3.3" fill="#1f4ba0"/>
<circle cx="1220.82" cy="493.84" r="3.3" fill="#1f4ba0"/>
<circle cx="1238.34" cy="530.68" r="3.3" fill="#1f4ba0"/>
<circle cx="1255.86" cy="527.1" r="3.3" fill="#1f4ba0"/>
<circle cx="1273.38" cy="472.85" r="3.3" fill="#1f4ba0"/>
<circle cx="1290.9" cy="525.05" r="3.3" fill="#1f4ba0"/>
<circle cx="1308.42" cy="526.59" r="3.3" fill="#1f4ba0"/>
<circle cx="1325.94" cy="440.1" r="3.3" fill="#1f4ba0"/>
<circle cx="1343.46" cy="533.24" r="3.3" fill="#1f4ba0"/>
<circle cx="1360.98" cy="538.36" r="3.3" fill="#1f4ba0"/>
<circle cx="1378.5" cy="497.42" r="3.3" fill="#1f4ba0"/>
<circle cx="1396.02" cy="551.16" r="3.3" fill="#1f4ba0"/>
<circle cx="1413.54" cy="558.32" r="3.3" fill="#1f4ba0"/>
<circle cx="1431.06" cy="521.47" r="3.3" fill="#1f4ba0"/>
<circle cx="1448.58" cy="575.21" r="3.3" fill="#1f4ba0"/>
<circle cx="1466.1" cy="583.4" r="3.3" fill="#1f4ba0"/>
<circle cx="1483.62" cy="547.57" r="3.3" fill="#1f4ba0"/>
<circle cx="1501.14" cy="602.33" r="3.3" fill="#1f4ba0"/>
<path d="M1273.2 440V459" stroke="#e8222a" stroke-width="2.9" fill="none"/>
<path d="M1268.6 458L1277.8 458L1273.2 467Z" fill="#e8222a"/>
<path d="M1325.8 408V427" stroke="#e8222a" stroke-width="2.9" fill="none"/>
<path d="M1321.2 426L1330.4 426L1325.8 435Z" fill="#e8222a"/>
<path d="M1106.7 392.5H1511.3V692.2H1106.7ZM1140.5 692.2v-4.7M1140.5 392.5v4.7M1207.88 692.2v-4.7M1207.88 392.5v4.7M1275.26 692.2v-4.7M1275.26 392.5v4.7M1342.64 692.2v-4.7M1342.64 392.5v4.7M1410.02 692.2v-4.7M1410.02 392.5v4.7M1477.4 692.2v-4.7M1477.4 392.5v4.7M1106.7 492.4h4.7M1511.3 492.4h-4.7M1106.7 592.3h4.7M1511.3 592.3h-4.7" fill="none" stroke="#6a6a6a" stroke-width="0.9"/>
<text transform="translate(1140.5 722.1) scale(1 1.025)" font-family="'Liberation Sans', sans-serif" font-size="22.3" text-anchor="middle" fill="#404040" stroke="#404040" stroke-width="0.2" font-weight="normal">1542</text>
<text transform="translate(1207.88 722.1) scale(1 1.025)" font-family="'Liberation Sans', sans-serif" font-size="22.3" text-anchor="middle" fill="#404040" stroke="#404040" stroke-width="0.2" font-weight="normal">1543</text>
<text transform="translate(1275.26 722.1) scale(1 1.025)" font-family="'Liberation Sans', sans-serif" font-size="22.3" text-anchor="middle" fill="#404040" stroke="#404040" stroke-width="0.2" font-weight="normal">1544</text>
<text transform="translate(1342.64 722.1) scale(1 1.025)" font-family="'Liberation Sans', sans-serif" font-size="22.3" text-anchor="middle" fill="#404040" stroke="#404040" stroke-width="0.2" font-weight="normal">1545</text>
<text transform="translate(1410.02 722.1) scale(1 1.025)" font-family="'Liberation Sans', sans-serif" font-size="22.3" text-anchor="middle" fill="#404040" stroke="#404040" stroke-width="0.2" font-weight="normal">1546</text>
<text transform="translate(1477.4 722.1) scale(1 1.025)" font-family="'Liberation Sans', sans-serif" font-size="22.3" text-anchor="middle" fill="#404040" stroke="#404040" stroke-width="0.2" font-weight="normal">1547</text>
<text x="1111.3" y="417.6" font-family="'Liberation Sans', sans-serif" font-size="20.8" font-weight="bold" fill="#1a1a1a" stroke="#1a1a1a" stroke-width="0.55" stroke-linejoin="round" textLength="10.93" lengthAdjust="spacingAndGlyphs">g</text>
<text transform="translate(1057.6 541.55) rotate(-90) scale(1 1.025)" font-family="'Liberation Sans', sans-serif" font-size="24.85" text-anchor="middle" fill="#404040" stroke="#404040" stroke-width="0.2" font-weight="normal">Comb power in resonator</text>
<text transform="translate(1089.3 541.55) rotate(-90) scale(1 1.025)" font-family="'Liberation Sans', sans-serif" font-size="24.85" text-anchor="middle" fill="#404040" stroke="#404040" stroke-width="0.2" font-weight="normal">(20 dB/div)</text>
<text transform="translate(1308 752.5) scale(1 1.025)" font-family="'Liberation Sans', sans-serif" font-size="24.85" text-anchor="middle" fill="#404040" stroke="#404040" stroke-width="0.2" font-weight="normal">Wavelength (nm)</text>
</g>
<g id="panel-e">
<path d="M1589.4 7.5H1998.3V307H1589.4ZM1589.4 307v-4.7M1589.4 7.5v4.7M1691.62 307v-4.7M1691.62 7.5v4.7M1793.85 307v-4.7M1793.85 7.5v4.7M1896.08 307v-4.7M1896.08 7.5v4.7M1998.3 307v-4.7M1998.3 7.5v4.7M1589.4 307h4.7M1998.3 307h-4.7M1589.4 247.1h4.7M1998.3 247.1h-4.7M1589.4 187.2h4.7M1998.3 187.2h-4.7M1589.4 127.3h4.7M1998.3 127.3h-4.7M1589.4 67.4h4.7M1998.3 67.4h-4.7M1589.4 7.5h4.7M1998.3 7.5h-4.7" fill="none" stroke="#6a6a6a" stroke-width="0.9"/>
<clipPath id="clipe"><rect x="1588.8" y="7.5" width="409.7" height="301.5"/></clipPath>
<path d="M1589.4 307L1589.4 297.38L1589.74 297.33L1590.08 297.28L1590.42 297.23L1590.76 297.18L1591.11 297.13L1591.45 297.09L1591.79 297.05L1592.13 297.01L1592.47 296.98L1592.81 296.95L1593.15 296.93L1593.49 296.91L1593.83 296.89L1594.17 296.88L1594.52 296.87L1594.86 296.87L1595.2 296.87L1595.54 296.87L1595.88 296.88L1596.22 296.89L1596.56 296.91L1596.9 296.92L1597.24 296.94L1597.58 296.96L1597.93 296.98L1598.27 297.01L1598.61 297.04L1598.95 297.07L1599.29 297.1L1599.63 297.14L1599.97 297.18L1600.31 297.22L1600.65 297.27L1601 297.32L1601.34 297.37L1601.68 297.42L1602.02 297.47L1602.36 297.53L1602.7 297.59L1603.04 297.65L1603.38 297.72L1603.72 297.79L1604.06 297.86L1604.41 297.93L1604.75 298L1605.09 298.08L1605.43 298.16L1605.77 298.24L1606.11 298.32L1606.45 298.41L1606.79 298.5L1607.13 298.59L1607.47 298.68L1607.82 298.77L1608.16 298.86L1608.5 298.96L1608.84 299.06L1609.18 299.16L1609.52 299.26L1609.86 299.36L1610.2 299.47L1610.54 299.57L1610.89 299.68L1611.23 299.79L1611.57 299.9L1611.91 300.01L1612.25 300.12L1612.59 300.23L1612.93 300.34L1613.27 300.46L1613.61 300.57L1613.95 300.68L1614.3 300.8L1614.64 300.92L1614.98 301.03L1615.32 301.15L1615.66 301.27L1616 301.38L1616.34 301.5L1616.68 301.62L1617.02 301.74L1617.36 301.86L1617.71 301.97L1618.05 302.09L1618.39 302.21L1618.73 302.32L1619.07 302.44L1619.41 302.56L1619.75 302.67L1620.09 302.79L1620.43 302.9L1620.78 303.01L1621.12 303.12L1621.46 303.23L1621.8 303.34L1622.14 303.45L1622.48 303.56L1622.82 303.67L1623.16 303.77L1623.5 303.88L1623.84 303.98L1624.19 304.08L1624.53 304.18L1624.87 304.28L1625.21 304.38L1625.55 304.47L1625.89 304.56L1626.23 304.65L1626.57 304.74L1626.91 304.83L1627.25 304.92L1627.6 305L1627.94 305.08L1628.28 305.16L1628.62 305.24L1628.96 305.31L1629.3 305.38L1629.64 305.45L1629.98 305.52L1630.32 305.58L1630.67 305.65L1631.01 305.71L1631.35 305.76L1631.69 305.82L1632.03 305.87L1632.37 305.92L1632.71 305.97L1633.05 306.01L1633.39 306.05L1633.73 306.09L1634.08 306.12L1634.42 306.16L1634.76 306.18L1635.1 306.21L1635.44 306.23L1635.78 306.25L1636.12 306.27L1636.46 306.28L1636.8 306.3L1637.14 306.3L1637.49 306.31L1637.83 306.31L1638.17 306.31L1638.51 306.3L1638.85 306.3L1639.19 306.29L1639.53 306.28L1639.87 306.28L1640.21 306.27L1640.56 306.26L1640.9 306.25L1641.24 306.24L1641.58 306.23L1641.92 306.21L1642.26 306.19L1642.6 306.18L1642.94 306.16L1643.28 306.13L1643.62 306.11L1643.97 306.08L1644.31 306.05L1644.65 306.01L1644.99 305.97L1645.33 305.92L1645.67 305.87L1646.01 305.81L1646.35 305.74L1646.69 305.67L1647.03 305.58L1647.38 305.49L1647.72 305.38L1648.06 305.27L1648.4 305.13L1648.74 304.98L1649.08 304.81L1649.42 304.62L1649.76 304.41L1650.1 304.17L1650.45 303.9L1650.79 303.6L1651.13 303.26L1651.47 302.88L1651.81 302.45L1652.15 301.97L1652.49 301.43L1652.83 300.82L1653.17 300.14L1653.51 299.38L1653.86 298.53L1654.2 297.57L1654.54 296.5L1654.88 295.3L1655.22 293.96L1655.56 292.46L1655.9 290.79L1656.24 288.92L1656.58 286.84L1656.92 284.52L1657.27 281.94L1657.61 279.07L1657.95 275.9L1658.29 272.38L1658.63 268.49L1658.97 264.2L1659.31 259.48L1659.65 254.3L1659.99 248.63L1660.34 242.45L1660.68 235.74L1661.02 228.48L1661.36 220.67L1661.7 212.29L1662.04 203.38L1662.38 193.95L1662.72 184.06L1663.06 173.75L1663.4 163.11L1663.75 152.25L1664.09 141.29L1664.43 130.38L1664.77 119.68L1665.11 109.38L1665.45 99.68L1665.79 90.76L1666.13 82.83L1666.47 76.06L1666.81 70.64L1667.16 66.69L1667.5 64.33L1667.84 63.61L1668.18 64.56L1668.52 67.15L1668.86 71.3L1669.2 76.9L1669.54 83.82L1669.88 91.88L1670.23 100.88L1670.57 110.63L1670.91 120.94L1671.25 131.61L1671.59 142.45L1671.93 153.31L1672.27 164.04L1672.61 174.52L1672.95 184.66L1673.29 194.37L1673.64 203.59L1673.98 212.29L1674.32 220.44L1674.66 228.03L1675 235.06L1675.34 241.54L1675.68 247.5L1676.02 252.94L1676.36 257.89L1676.7 262.39L1677.05 266.46L1677.39 270.14L1677.73 273.45L1678.07 276.42L1678.41 279.08L1678.75 281.46L1679.09 283.58L1679.43 285.47L1679.77 287.14L1680.12 288.63L1680.46 289.94L1680.8 291.09L1681.14 292.11L1681.48 293L1681.82 293.78L1682.16 294.46L1682.5 295.05L1682.84 295.56L1683.18 295.99L1683.53 296.37L1683.87 296.69L1684.21 296.95L1684.55 297.18L1684.89 297.36L1685.23 297.51L1685.57 297.63L1685.91 297.72L1686.25 297.79L1686.59 297.83L1686.94 297.86L1687.28 297.88L1687.62 297.88L1687.96 297.86L1688.3 297.84L1688.64 297.81L1688.98 297.78L1689.32 297.74L1689.66 297.69L1690.01 297.64L1690.35 297.59L1690.69 297.54L1691.03 297.48L1691.37 297.43L1691.71 297.37L1692.05 297.32L1692.39 297.27L1692.73 297.22L1693.07 297.17L1693.42 297.13L1693.76 297.08L1694.1 297.05L1694.44 297.01L1694.78 296.98L1695.12 296.95L1695.46 296.93L1695.8 296.91L1696.14 296.89L1696.48 296.88L1696.83 296.87L1697.17 296.87L1697.51 296.87L1697.85 296.88L1698.19 296.89L1698.53 296.9L1698.87 296.91L1699.21 296.93L1699.55 296.95L1699.9 296.97L1700.24 296.99L1700.58 297.02L1700.92 297.05L1701.26 297.08L1701.6 297.11L1701.94 297.15L1702.28 297.19L1702.62 297.23L1702.96 297.28L1703.31 297.33L1703.65 297.38L1703.99 297.43L1704.33 297.49L1704.67 297.55L1705.01 297.61L1705.35 297.67L1705.69 297.74L1706.03 297.8L1706.37 297.88L1706.72 297.95L1707.06 298.02L1707.4 298.1L1707.74 298.18L1708.08 298.26L1708.42 298.35L1708.76 298.43L1709.1 298.52L1709.44 298.61L1709.79 298.7L1710.13 298.79L1710.47 298.89L1710.81 298.99L1711.15 299.08L1711.49 299.18L1711.83 299.29L1712.17 299.39L1712.51 299.49L1712.85 299.6L1713.2 299.71L1713.54 299.81L1713.88 299.92L1714.22 300.03L1714.56 300.14L1714.9 300.26L1715.24 300.37L1715.58 300.48L1715.92 300.6L1716.26 300.71L1716.61 300.83L1716.95 300.95L1717.29 301.06L1717.63 301.18L1717.97 301.3L1718.31 301.41L1718.65 301.53L1718.99 301.65L1719.33 301.77L1719.68 301.88L1720.02 302L1720.36 302.12L1720.7 302.24L1721.04 302.35L1721.38 302.47L1721.72 302.58L1722.06 302.7L1722.4 302.81L1722.74 302.93L1723.09 303.04L1723.43 303.15L1723.77 303.26L1724.11 303.37L1724.45 303.48L1724.79 303.59L1725.13 303.7L1725.47 303.8L1725.81 303.9L1726.15 304.01L1726.5 304.11L1726.84 304.21L1727.18 304.3L1727.52 304.4L1727.86 304.49L1728.2 304.59L1728.54 304.68L1728.88 304.77L1729.22 304.85L1729.57 304.94L1729.91 305.02L1730.25 305.1L1730.59 305.18L1730.93 305.25L1731.27 305.33L1731.61 305.4L1731.95 305.47L1732.29 305.54L1732.63 305.6L1732.98 305.66L1733.32 305.72L1733.66 305.78L1734 305.83L1734.34 305.88L1734.68 305.93L1735.02 305.98L1735.36 306.02L1735.7 306.06L1736.04 306.1L1736.39 306.13L1736.73 306.16L1737.07 306.19L1737.41 306.22L1737.75 306.24L1738.09 306.26L1738.43 306.27L1738.77 306.29L1739.11 306.3L1739.46 306.3L1739.8 306.31L1740.14 306.31L1740.48 306.3L1740.82 306.3L1741.16 306.29L1741.5 306.29L1741.84 306.28L1742.18 306.27L1742.52 306.27L1742.87 306.26L1743.21 306.25L1743.55 306.24L1743.89 306.22L1744.23 306.21L1744.57 306.19L1744.91 306.17L1745.25 306.15L1745.59 306.13L1745.93 306.1L1746.28 306.07L1746.62 306.04L1746.96 306L1747.3 305.96L1747.64 305.91L1747.98 305.85L1748.32 305.79L1748.66 305.72L1749 305.65L1749.35 305.56L1749.69 305.46L1750.03 305.36L1750.37 305.23L1750.71 305.1L1751.05 304.94L1751.39 304.77L1751.73 304.57L1752.07 304.35L1752.41 304.1L1752.76 303.83L1753.1 303.52L1753.44 303.17L1753.78 302.77L1754.12 302.33L1754.46 301.84L1754.8 301.28L1755.14 300.66L1755.48 299.96L1755.82 299.18L1756.17 298.3L1756.51 297.31L1756.85 296.21L1757.19 294.98L1757.53 293.6L1757.87 292.06L1758.21 290.34L1758.55 288.42L1758.89 286.28L1759.24 283.9L1759.58 281.25L1759.92 278.31L1760.26 275.05L1760.6 271.44L1760.94 267.45L1761.28 263.06L1761.62 258.22L1761.96 252.93L1762.3 247.13L1762.65 240.82L1762.99 233.98L1763.33 226.58L1763.67 218.62L1764.01 210.12L1764.35 201.07L1764.69 191.52L1765.03 181.51L1765.37 171.11L1765.71 160.41L1766.06 149.51L1766.4 138.55L1766.74 127.68L1767.08 117.06L1767.42 106.89L1767.76 97.37L1768.1 88.68L1768.44 81.03L1768.78 74.59L1769.13 69.53L1769.47 65.98L1769.81 64.03L1770.15 63.73L1770.49 65.09L1770.83 68.08L1771.17 72.62L1771.51 78.57L1771.85 85.79L1772.19 94.11L1772.54 103.32L1772.88 113.24L1773.22 123.65L1773.56 134.38L1773.9 145.25L1774.24 156.09L1774.58 166.78L1774.92 177.19L1775.26 187.22L1775.6 196.82L1775.95 205.92L1776.29 214.48L1776.63 222.5L1776.97 229.95L1777.31 236.85L1777.65 243.2L1777.99 249.02L1778.33 254.34L1778.67 259.18L1779.02 263.57L1779.36 267.55L1779.7 271.13L1780.04 274.35L1780.38 277.24L1780.72 279.83L1781.06 282.15L1781.4 284.21L1781.74 286.04L1782.08 287.67L1782.43 289.11L1782.77 290.38L1783.11 291.5L1783.45 292.49L1783.79 293.35L1784.13 294.1L1784.47 294.76L1784.81 295.32L1785.15 295.81L1785.49 296.23L1785.84 296.59L1786.18 296.9L1786.52 297.15L1786.86 297.36L1787.2 297.53L1787.54 297.67L1787.88 297.78L1788.22 297.87L1788.56 297.93L1788.91 297.97L1789.25 297.99L1789.59 298L1789.93 297.99L1790.27 297.97L1790.61 297.95L1790.95 297.91L1791.29 297.87L1791.63 297.83L1791.97 297.78L1792.32 297.72L1792.66 297.67L1793 297.61L1793.34 297.55L1793.68 297.5L1794.02 297.44L1794.36 297.38L1794.7 297.33L1795.04 297.27L1795.38 297.22L1795.73 297.17L1796.07 297.13L1796.41 297.08L1796.75 297.04L1797.09 297.01L1797.43 296.98L1797.77 296.95L1798.11 296.92L1798.45 296.91L1798.79 296.89L1799.14 296.88L1799.48 296.87L1799.82 296.87L1800.16 296.88L1800.5 296.88L1800.84 296.89L1801.18 296.9L1801.52 296.92L1801.86 296.94L1802.21 296.96L1802.55 296.98L1802.89 297.01L1803.23 297.04L1803.57 297.07L1803.91 297.1L1804.25 297.14L1804.59 297.18L1804.93 297.22L1805.27 297.27L1805.62 297.32L1805.96 297.37L1806.3 297.42L1806.64 297.48L1806.98 297.54L1807.32 297.6L1807.66 297.66L1808 297.73L1808.34 297.8L1808.68 297.87L1809.03 297.95L1809.37 298.03L1809.71 298.1L1810.05 298.19L1810.39 298.27L1810.73 298.36L1811.07 298.44L1811.41 298.53L1811.75 298.63L1812.1 298.72L1812.44 298.82L1812.78 298.91L1813.12 299.01L1813.46 299.12L1813.8 299.22L1814.14 299.32L1814.48 299.43L1814.82 299.54L1815.16 299.65L1815.51 299.76L1815.85 299.87L1816.19 299.98L1816.53 300.09L1816.87 300.21L1817.21 300.32L1817.55 300.44L1817.89 300.56L1818.23 300.67L1818.57 300.79L1818.92 300.91L1819.26 301.03L1819.6 301.15L1819.94 301.27L1820.28 301.39L1820.62 301.51L1820.96 301.63L1821.3 301.75L1821.64 301.87L1821.99 301.99L1822.33 302.11L1822.67 302.23L1823.01 302.35L1823.35 302.47L1823.69 302.59L1824.03 302.71L1824.37 302.82L1824.71 302.94L1825.05 303.06L1825.4 303.17L1825.74 303.28L1826.08 303.4L1826.42 303.51L1826.76 303.62L1827.1 303.73L1827.44 303.83L1827.78 303.94L1828.12 304.04L1828.46 304.15L1828.81 304.25L1829.15 304.35L1829.49 304.44L1829.83 304.54L1830.17 304.63L1830.51 304.73L1830.85 304.82L1831.19 304.9L1831.53 304.99L1831.88 305.07L1832.22 305.15L1832.56 305.23L1832.9 305.31L1833.24 305.38L1833.58 305.45L1833.92 305.52L1834.26 305.59L1834.6 305.65L1834.94 305.72L1835.29 305.77L1835.63 305.83L1835.97 305.88L1836.31 305.93L1836.65 305.98L1836.99 306.03L1837.33 306.07L1837.67 306.11L1838.01 306.14L1838.35 306.18L1838.7 306.21L1839.04 306.23L1839.38 306.26L1839.72 306.28L1840.06 306.3L1840.4 306.31L1840.74 306.32L1841.08 306.33L1841.42 306.34L1841.77 306.34L1842.11 306.34L1842.45 306.34L1842.79 306.34L1843.13 306.33L1843.47 306.32L1843.81 306.31L1844.15 306.3L1844.49 306.28L1844.83 306.26L1845.18 306.24L1845.52 306.22L1845.86 306.19L1846.2 306.16L1846.54 306.13L1846.88 306.1L1847.22 306.07L1847.56 306.03L1847.9 305.99L1848.24 305.95L1848.59 305.9L1848.93 305.86L1849.27 305.81L1849.61 305.76L1849.95 305.71L1850.29 305.65L1850.63 305.6L1850.97 305.54L1851.31 305.48L1851.66 305.41L1852 305.35L1852.34 305.28L1852.68 305.21L1853.02 305.14L1853.36 305.07L1853.7 304.99L1854.04 304.92L1854.38 304.84L1854.72 304.76L1855.07 304.68L1855.41 304.59L1855.75 304.51L1856.09 304.42L1856.43 304.33L1856.77 304.24L1857.11 304.15L1857.45 304.06L1857.79 303.96L1858.13 303.87L1858.48 303.77L1858.82 303.67L1859.16 303.57L1859.5 303.47L1859.84 303.37L1860.18 303.27L1860.52 303.16L1860.86 303.06L1861.2 302.95L1861.55 302.84L1861.89 302.73L1862.23 302.62L1862.57 302.51L1862.91 302.4L1863.25 302.29L1863.59 302.18L1863.93 302.07L1864.27 301.95L1864.61 301.84L1864.96 301.72L1865.3 301.61L1865.64 301.49L1865.98 301.38L1866.32 301.26L1866.66 301.15L1867 301.03L1867.34 300.91L1867.68 300.8L1868.02 300.68L1868.37 300.56L1868.71 300.44L1869.05 300.33L1869.39 300.21L1869.73 300.09L1870.07 299.98L1870.41 299.86L1870.75 299.75L1871.09 299.63L1871.44 299.52L1871.78 299.4L1872.12 299.29L1872.46 299.18L1872.8 299.06L1873.14 298.95L1873.48 298.84L1873.82 298.73L1874.16 298.62L1874.5 298.51L1874.85 298.4L1875.19 298.3L1875.53 298.19L1875.87 298.08L1876.21 297.98L1876.55 297.88L1876.89 297.78L1877.23 297.68L1877.57 297.58L1877.91 297.48L1878.26 297.38L1878.6 297.29L1878.94 297.19L1879.28 297.1L1879.62 297.01L1879.96 296.92L1880.3 296.83L1880.64 296.75L1880.98 296.66L1881.33 296.58L1881.67 296.5L1882.01 296.42L1882.35 296.34L1882.69 296.27L1883.03 296.2L1883.37 296.12L1883.71 296.05L1884.05 295.99L1884.39 295.92L1884.74 295.86L1885.08 295.79L1885.42 295.73L1885.76 295.68L1886.1 295.62L1886.44 295.57L1886.78 295.52L1887.12 295.47L1887.46 295.42L1887.8 295.37L1888.15 295.33L1888.49 295.29L1888.83 295.25L1889.17 295.22L1889.51 295.18L1889.85 295.15L1890.19 295.12L1890.53 295.1L1890.87 295.07L1891.22 295.05L1891.56 295.03L1891.9 295.01L1892.24 295L1892.58 294.99L1892.92 294.98L1893.26 294.97L1893.6 294.96L1893.94 294.96L1894.28 294.96L1894.63 294.96L1894.97 294.97L1895.31 294.97L1895.65 294.98L1895.99 294.99L1896.33 295L1896.67 295.02L1897.01 295.04L1897.35 295.06L1897.69 295.08L1898.04 295.1L1898.38 295.13L1898.72 295.16L1899.06 295.19L1899.4 295.22L1899.74 295.25L1900.08 295.29L1900.42 295.33L1900.76 295.37L1901.11 295.41L1901.45 295.46L1901.79 295.51L1902.13 295.55L1902.47 295.61L1902.81 295.66L1903.15 295.71L1903.49 295.77L1903.83 295.83L1904.17 295.89L1904.52 295.95L1904.86 296.02L1905.2 296.08L1905.54 296.15L1905.88 296.22L1906.22 296.29L1906.56 296.37L1906.9 296.44L1907.24 296.52L1907.58 296.6L1907.93 296.68L1908.27 296.76L1908.61 296.84L1908.95 296.92L1909.29 297.01L1909.63 297.1L1909.97 297.19L1910.31 297.28L1910.65 297.37L1911 297.46L1911.34 297.55L1911.68 297.65L1912.02 297.74L1912.36 297.84L1912.7 297.94L1913.04 298.04L1913.38 298.14L1913.72 298.24L1914.06 298.34L1914.41 298.45L1914.75 298.55L1915.09 298.66L1915.43 298.76L1915.77 298.87L1916.11 298.98L1916.45 299.08L1916.79 299.19L1917.13 299.3L1917.47 299.41L1917.82 299.52L1918.16 299.63L1918.5 299.74L1918.84 299.85L1919.18 299.96L1919.52 300.08L1919.86 300.19L1920.2 300.3L1920.54 300.41L1920.89 300.53L1921.23 300.64L1921.57 300.75L1921.91 300.86L1922.25 300.98L1922.59 301.09L1922.93 301.2L1923.27 301.31L1923.61 301.42L1923.95 301.54L1924.3 301.65L1924.64 301.76L1924.98 301.87L1925.32 301.98L1925.66 302.09L1926 302.19L1926.34 302.3L1926.68 302.41L1927.02 302.52L1927.36 302.62L1927.71 302.73L1928.05 302.83L1928.39 302.94L1928.73 303.04L1929.07 303.14L1929.41 303.24L1929.75 303.34L1930.09 303.44L1930.43 303.54L1930.78 303.63L1931.12 303.73L1931.46 303.82L1931.8 303.91L1932.14 304.01L1932.48 304.1L1932.82 304.18L1933.16 304.27L1933.5 304.36L1933.84 304.44L1934.19 304.53L1934.53 304.61L1934.87 304.69L1935.21 304.77L1935.55 304.84L1935.89 304.92L1936.23 304.99L1936.57 305.06L1936.91 305.13L1937.25 305.2L1937.6 305.27L1937.94 305.33L1938.28 305.39L1938.62 305.45L1938.96 305.51L1939.3 305.57L1939.64 305.62L1939.98 305.68L1940.32 305.73L1940.67 305.78L1941.01 305.82L1941.35 305.87L1941.69 305.91L1942.03 305.95L1942.37 305.99L1942.71 306.02L1943.05 306.06L1943.39 306.09L1943.73 306.11L1944.08 306.14L1944.42 306.16L1944.76 306.18L1945.1 306.2L1945.44 306.22L1945.78 306.23L1946.12 306.24L1946.46 306.25L1946.8 306.25L1947.14 306.25L1947.49 306.25L1947.83 306.24L1948.17 306.23L1948.51 306.22L1948.85 306.2L1949.19 306.19L1949.53 306.17L1949.87 306.15L1950.21 306.12L1950.56 306.09L1950.9 306.06L1951.24 306.03L1951.58 305.99L1951.92 305.95L1952.26 305.9L1952.6 305.84L1952.94 305.78L1953.28 305.71L1953.62 305.63L1953.97 305.54L1954.31 305.44L1954.65 305.33L1954.99 305.21L1955.33 305.07L1955.67 304.91L1956.01 304.73L1956.35 304.53L1956.69 304.3L1957.03 304.05L1957.38 303.77L1957.72 303.45L1958.06 303.09L1958.4 302.69L1958.74 302.24L1959.08 301.73L1959.42 301.16L1959.76 300.52L1960.1 299.81L1960.45 299.01L1960.79 298.11L1961.13 297.1L1961.47 295.98L1961.81 294.72L1962.15 293.31L1962.49 291.73L1962.83 289.97L1963.17 288.01L1963.51 285.83L1963.86 283.39L1964.2 280.69L1964.54 277.68L1964.88 274.35L1965.22 270.67L1965.56 266.61L1965.9 262.12L1966.24 257.2L1966.58 251.81L1966.92 245.91L1967.27 239.5L1967.61 232.54L1967.95 225.03L1968.29 216.96L1968.63 208.35L1968.97 199.2L1969.31 189.55L1969.65 179.46L1969.99 168.99L1970.34 158.24L1970.68 147.32L1971.02 136.36L1971.36 125.53L1971.7 114.98L1972.04 104.93L1972.38 95.55L1972.72 87.05L1973.06 79.62L1973.4 73.44L1973.75 68.67L1974.09 65.42L1974.43 63.79L1974.77 63.82L1975.11 65.51L1975.45 68.81L1975.79 73.63L1976.13 79.85L1976.47 87.3L1976.81 95.8L1977.16 105.17L1977.5 115.19L1977.84 125.68L1978.18 136.45L1978.52 147.32L1978.86 158.14L1979.2 168.77L1979.54 179.1L1979.88 189.05L1980.23 198.55L1980.57 207.54L1980.91 215.99L1981.25 223.89L1981.59 231.23L1981.93 238.01L1982.27 244.25L1982.61 249.97L1982.95 255.18L1983.29 259.93L1983.64 264.23L1983.98 268.12L1984.32 271.63L1984.66 274.78L1985 277.61L1985.34 280.14L1985.68 282.4L1986.02 284.41L1986.36 286.2L1986.7 287.79L1987.05 289.19L1987.39 290.43L1987.73 291.52L1988.07 292.48L1988.41 293.32L1988.75 294.05L1989.09 294.69L1989.43 295.24L1989.77 295.72L1990.12 296.12L1990.46 296.47L1990.8 296.77L1991.14 297.01L1991.48 297.22L1991.82 297.39L1992.16 297.52L1992.5 297.63L1992.84 297.71L1993.18 297.77L1993.53 297.81L1993.87 297.83L1994.21 297.84L1994.55 297.83L1994.89 297.82L1995.23 297.79L1995.57 297.76L1995.91 297.73L1996.25 297.68L1996.59 297.64L1996.94 297.59L1997.28 297.54L1997.62 297.48L1997.96 297.43L1998.3 297.38L1998.3 307Z" fill="#1f4ba0" stroke="#1f4ba0" stroke-width="2.6" stroke-linejoin="round" clip-path="url(#clipe)"/>
<text transform="translate(1588.9 336.5) scale(1 1.025)" font-family="'Liberation Sans', sans-serif" font-size="22.3" text-anchor="middle" fill="#404040" stroke="#404040" stroke-width="0.2" font-weight="normal">-1</text>
<text transform="translate(1691.12 336.5) scale(1 1.025)" font-family="'Liberation Sans', sans-serif" font-size="22.3" text-anchor="middle" fill="#404040" stroke="#404040" stroke-width="0.2" font-weight="normal">-0.5</text>
<text transform="translate(1793.35 336.5) scale(1 1.025)" font-family="'Liberation Sans', sans-serif" font-size="22.3" text-anchor="middle" fill="#404040" stroke="#404040" stroke-width="0.2" font-weight="normal">0</text>
<text transform="translate(1895.58 336.5) scale(1 1.025)" font-family="'Liberation Sans', sans-serif" font-size="22.3" text-anchor="middle" fill="#404040" stroke="#404040" stroke-width="0.2" font-weight="normal">0.5</text>
<text transform="translate(1997.8 336.5) scale(1 1.025)" font-family="'Liberation Sans', sans-serif" font-size="22.3" text-anchor="middle" fill="#404040" stroke="#404040" stroke-width="0.2" font-weight="normal">1</text>
<text transform="translate(1581.8 314.9) scale(1 1.025)" font-family="'Liberation Sans', sans-serif" font-size="22.3" text-anchor="end" fill="#404040" stroke="#404040" stroke-width="0.2" font-weight="normal">0</text>
<text transform="translate(1581.8 255) scale(1 1.025)" font-family="'Liberation Sans', sans-serif" font-size="22.3" text-anchor="end" fill="#404040" stroke="#404040" stroke-width="0.2" font-weight="normal">2</text>
<text transform="translate(1581.8 195.1) scale(1 1.025)" font-family="'Liberation Sans', sans-serif" font-size="22.3" text-anchor="end" fill="#404040" stroke="#404040" stroke-width="0.2" font-weight="normal">4</text>
<text transform="translate(1581.8 135.2) scale(1 1.025)" font-family="'Liberation Sans', sans-serif" font-size="22.3" text-anchor="end" fill="#404040" stroke="#404040" stroke-width="0.2" font-weight="normal">6</text>
<text transform="translate(1581.8 75.3) scale(1 1.025)" font-family="'Liberation Sans', sans-serif" font-size="22.3" text-anchor="end" fill="#404040" stroke="#404040" stroke-width="0.2" font-weight="normal">8</text>
<text transform="translate(1581.8 15.4) scale(1 1.025)" font-family="'Liberation Sans', sans-serif" font-size="22.3" text-anchor="end" fill="#404040" stroke="#404040" stroke-width="0.2" font-weight="normal">10</text>
<text x="1596.2" y="32" font-family="'Liberation Sans', sans-serif" font-size="20.2" font-weight="bold" fill="#1a1a1a" stroke="#1a1a1a" stroke-width="0.55" stroke-linejoin="round" textLength="10.9" lengthAdjust="spacingAndGlyphs">e</text>
<text transform="translate(1551.3 159.25) rotate(-90) scale(1 1.025)" font-family="'Liberation Sans', sans-serif" font-size="24.85" text-anchor="middle" fill="#404040" stroke="#404040" stroke-width="0.2" font-weight="normal">Pulse power (arb. units)</text>
<rect x="1783.7" y="12.2" width="169.4" height="138.4" rx="13" ry="13" fill="#fff" stroke="#9a9a9a" stroke-width="1.7"/>
<path d="M1790.6 114.5L1790.71 113.13L1790.98 111.91L1791.5 110.55L1792.13 109.35L1793.05 108.01L1794.03 106.84L1795.19 105.68L1796.67 104.4L1798.36 103.15L1800.02 102.07L1804.04 99.85L1808.41 97.89L1813.62 95.97L1819.38 94.24L1825.25 92.78L1831.9 91.44L1838.91 90.32L1846.22 89.44L1853.75 88.81L1861.44 88.43L1869.2 88.3L1876.96 88.43L1884.65 88.81L1892.18 89.44L1899.49 90.32L1906.5 91.44L1913.15 92.78L1919.02 94.24L1924.78 95.97L1929.99 97.89L1934.36 99.85L1938.38 102.07L1940.04 103.15L1941.73 104.4L1943.21 105.68L1944.37 106.84L1945.35 108.01L1946.27 109.35L1946.97 110.7L1947.42 111.91L1947.69 113.13L1947.8 114.5L1947.8 112.58L1947.69 111L1946.97 106.38L1946.53 102.61L1945.79 92.46L1945.12 77.78L1943.67 35.57L1943.21 26.86L1942.9 23.78L1942.74 23.22L1942.58 23.33L1942.41 24.12L1941.9 30.08L1940.04 65.75L1939.44 74.54L1938.81 81.31L1938.17 86.24L1937.72 88.66L1937.27 90.52L1936.81 91.91L1936.34 92.92L1935.86 93.64L1935.12 94.28L1934.62 94.49L1934.11 94.57L1933.32 94.52L1932.52 94.32L1924.78 91.05L1922.13 90.19L1919.02 89.37L1916.14 88.76L1913.15 88.27L1909.68 87.84L1906.1 87.53L1898.22 87.14L1881.5 86.76L1859.17 85.98L1850.18 85.77L1844.04 85.77L1838.91 85.92L1833.92 86.24L1829.5 86.7L1825.63 87.29L1821.9 88.04L1818.68 88.85L1815.26 89.91L1812.03 91.12L1808.99 92.47L1806.15 93.95L1803.28 95.71L1800.68 97.58L1798.16 99.69L1795.99 101.86L1794.17 104.03L1792.61 106.34L1791.5 108.57L1790.82 110.67L1790.6 112.59Z" fill="#2eaae1" stroke="#2eaae1" stroke-width="0.5" stroke-linejoin="round"/>
<path d="M1790.6 112.59L1790.82 110.67L1791.5 108.57L1792.61 106.34L1794.17 104.03L1795.99 101.86L1798.16 99.69L1800.68 97.58L1803.28 95.71L1806.15 93.95L1808.99 92.47L1812.03 91.12L1815.26 89.91L1818.68 88.85L1821.9 88.04L1825.63 87.29L1829.5 86.7L1833.92 86.24L1838.91 85.92L1844.04 85.77L1850.18 85.77L1859.17 85.98L1881.5 86.76L1898.22 87.14L1906.1 87.53L1909.68 87.84L1913.15 88.27L1916.14 88.76L1919.02 89.37L1922.13 90.19L1924.78 91.05L1932.52 94.32L1933.32 94.52L1934.11 94.57L1934.62 94.49L1935.12 94.28L1935.86 93.64L1936.34 92.92L1936.81 91.91L1937.27 90.52L1937.72 88.66L1938.17 86.24L1938.81 81.31L1939.44 74.54L1940.04 65.75L1941.9 30.08L1942.41 24.12L1942.58 23.33L1942.74 23.22L1942.9 23.78L1943.21 26.86L1943.67 35.57L1945.12 77.78L1945.79 92.46L1946.53 102.61L1946.97 106.38L1947.69 111L1947.8 112.58" fill="none" stroke="#2346a0" stroke-width="1.25" stroke-linejoin="round" stroke-linecap="round"/>
<path d="M1947.8 114.5L1947.69 115.87L1947.42 117.09L1946.9 118.45L1946.27 119.65L1945.35 120.99L1944.37 122.16L1943.21 123.32L1941.73 124.6L1940.04 125.85L1938.38 126.93L1934.36 129.15L1929.99 131.11L1924.78 133.03L1919.02 134.76L1912.77 136.31L1906.1 137.63L1899.49 138.68L1892.18 139.56L1884.65 140.19L1876.96 140.57L1869.2 140.7L1861.44 140.57L1853.75 140.19L1846.22 139.56L1838.91 138.68L1832.3 137.63L1825.63 136.31L1819.38 134.76L1813.62 133.03L1808.41 131.11L1804.04 129.15L1800.02 126.93L1798.36 125.85L1796.67 124.6L1795.34 123.46L1794.03 122.16L1793.05 120.99L1792.13 119.65L1791.43 118.3L1790.98 117.09L1790.71 115.87L1790.6 114.5L1790.6 112.59L1790.71 113.75L1790.98 114.41L1791.13 114.46L1791.3 114.31L1791.64 113.38L1792.13 110.28L1792.61 104.7L1793.4 89.28L1794.88 50.1L1795.34 43.32L1795.5 42.2L1795.66 41.74L1795.82 41.96L1795.99 42.85L1796.5 49.2L1797.96 79.93L1798.76 94.22L1799.38 102.66L1800.23 110.91L1800.68 113.95L1801.36 117.44L1801.83 119.21L1802.54 121.23L1803.28 122.68L1804.29 124.03L1805.61 125.13L1806.98 125.88L1809.58 126.85L1821.9 130.69L1833.92 134.23L1838.49 135.41L1842.75 136.38L1847.1 137.22L1851.07 137.85L1856 138.41L1860.53 138.71L1866.46 138.82L1871.49 138.68L1874.68 138.35L1876.96 137.86L1878.78 137.19L1880.59 136.1L1881.95 134.86L1882.85 133.75L1883.75 132.34L1884.65 130.56L1885.54 128.32L1886.44 125.52L1887.77 120.05L1889.1 112.75L1890.43 103.44L1891.74 92.29L1893.92 72.36L1894.79 65.52L1895.65 60.34L1896.08 58.58L1896.51 57.44L1896.94 56.97L1897.37 57.17L1897.79 58.04L1898.22 59.55L1899.07 64.25L1900.33 74.34L1903.24 100.68L1904.48 109.67L1905.29 114.54L1906.5 120.24L1907.71 124.29L1908.9 127.06L1909.68 128.36L1910.46 129.32L1911.62 130.26L1912.39 130.64L1913.15 130.87L1914.66 131L1916.87 130.71L1920.07 129.77L1929.99 126.25L1935.37 124.27L1939.02 122.76L1941.19 121.72L1943.06 120.63L1944.5 119.56L1945.68 118.4L1946.61 117.12L1947.27 115.71L1947.67 114.18L1947.8 112.58Z" fill="#2eaae1" stroke="#2eaae1" stroke-width="0.5" stroke-linejoin="round"/>
<path d="M1947.8 112.58L1947.67 114.18L1947.27 115.71L1946.61 117.12L1945.68 118.4L1944.5 119.56L1943.06 120.63L1941.19 121.72L1939.02 122.76L1935.37 124.27L1929.99 126.25L1920.07 129.77L1916.87 130.71L1914.66 131L1913.15 130.87L1912.39 130.64L1911.62 130.26L1910.46 129.32L1909.68 128.36L1908.9 127.06L1907.71 124.29L1906.5 120.24L1905.29 114.54L1904.48 109.67L1903.24 100.68L1900.33 74.34L1899.07 64.25L1898.22 59.55L1897.79 58.04L1897.37 57.17L1896.94 56.97L1896.51 57.44L1896.08 58.58L1895.65 60.34L1894.79 65.52L1893.92 72.36L1891.74 92.29L1890.43 103.44L1889.1 112.75L1887.77 120.05L1886.44 125.52L1885.54 128.32L1884.65 130.56L1883.75 132.34L1882.85 133.75L1881.95 134.86L1880.59 136.1L1878.78 137.19L1876.96 137.86L1874.68 138.35L1871.49 138.68L1866.46 138.82L1860.53 138.71L1856 138.41L1851.07 137.85L1847.1 137.22L1842.75 136.38L1838.49 135.41L1833.92 134.23L1821.9 130.69L1809.58 126.85L1806.98 125.88L1805.61 125.13L1804.29 124.03L1803.28 122.68L1802.54 121.23L1801.83 119.21L1801.36 117.44L1800.68 113.95L1800.23 110.91L1799.38 102.66L1798.76 94.22L1797.96 79.93L1796.5 49.2L1795.99 42.85L1795.82 41.96L1795.66 41.74L1795.5 42.2L1795.34 43.32L1794.88 50.1L1793.4 89.28L1792.61 104.7L1792.13 110.28L1791.64 113.38L1791.3 114.31L1791.13 114.46L1790.98 114.41L1790.71 113.75L1790.6 112.59" fill="none" stroke="#2346a0" stroke-width="1.25" stroke-linejoin="round" stroke-linecap="round"/>
</g>
<g id="panel-h">
<path d="M1589.4 392.3H1998.3V692H1589.4ZM1589.4 692v-4.7M1589.4 392.3v4.7M1691.62 692v-4.7M1691.62 392.3v4.7M1793.85 692v-4.7M1793.85 392.3v4.7M1896.08 692v-4.7M1896.08 392.3v4.7M1998.3 692v-4.7M1998.3 392.3v4.7M1589.4 692h4.7M1998.3 692h-4.7M1589.4 617.08h4.7M1998.3 617.08h-4.7M1589.4 542.15h4.7M1998.3 542.15h-4.7M1589.4 467.23h4.7M1998.3 467.23h-4.7M1589.4 392.3h4.7M1998.3 392.3h-4.7" fill="none" stroke="#6a6a6a" stroke-width="0.9"/>
<clipPath id="cliph"><rect x="1588.8" y="392.3" width="409.7" height="301.7"/></clipPath>
<path d="M1589.4 692L1589.4 679.47L1589.74 679.61L1590.08 679.76L1590.42 679.9L1590.76 680.04L1591.11 680.19L1591.45 680.33L1591.79 680.48L1592.13 680.63L1592.47 680.78L1592.81 680.93L1593.15 681.08L1593.49 681.23L1593.83 681.38L1594.17 681.53L1594.52 681.69L1594.86 681.84L1595.2 681.99L1595.54 682.15L1595.88 682.3L1596.22 682.46L1596.56 682.61L1596.9 682.77L1597.24 682.92L1597.58 683.08L1597.93 683.23L1598.27 683.39L1598.61 683.54L1598.95 683.7L1599.29 683.85L1599.63 684.01L1599.97 684.16L1600.31 684.31L1600.65 684.47L1601 684.62L1601.34 684.77L1601.68 684.92L1602.02 685.07L1602.36 685.22L1602.7 685.37L1603.04 685.52L1603.38 685.67L1603.72 685.81L1604.06 685.96L1604.41 686.1L1604.75 686.25L1605.09 686.39L1605.43 686.53L1605.77 686.67L1606.11 686.81L1606.45 686.95L1606.79 687.08L1607.13 687.21L1607.47 687.35L1607.82 687.48L1608.16 687.61L1608.5 687.73L1608.84 687.86L1609.18 687.98L1609.52 688.11L1609.86 688.23L1610.2 688.35L1610.54 688.46L1610.89 688.58L1611.23 688.69L1611.57 688.8L1611.91 688.91L1612.25 689.02L1612.59 689.12L1612.93 689.22L1613.27 689.32L1613.61 689.42L1613.95 689.51L1614.3 689.61L1614.64 689.7L1614.98 689.79L1615.32 689.87L1615.66 689.95L1616 690.03L1616.34 690.11L1616.68 690.19L1617.02 690.26L1617.36 690.33L1617.71 690.4L1618.05 690.46L1618.39 690.52L1618.73 690.58L1619.07 690.64L1619.41 690.69L1619.75 690.75L1620.09 690.79L1620.43 690.84L1620.78 690.88L1621.12 690.92L1621.46 690.96L1621.8 690.99L1622.14 691.02L1622.48 691.05L1622.82 691.08L1623.16 691.1L1623.5 691.12L1623.84 691.14L1624.19 691.15L1624.53 691.16L1624.87 691.17L1625.21 691.17L1625.55 691.17L1625.89 691.17L1626.23 691.17L1626.57 691.17L1626.91 691.17L1627.25 691.17L1627.6 691.17L1627.94 691.17L1628.28 691.17L1628.62 691.17L1628.96 691.17L1629.3 691.16L1629.64 691.16L1629.98 691.16L1630.32 691.16L1630.67 691.16L1631.01 691.16L1631.35 691.16L1631.69 691.15L1632.03 691.15L1632.37 691.15L1632.71 691.15L1633.05 691.14L1633.39 691.14L1633.73 691.13L1634.08 691.13L1634.42 691.13L1634.76 691.12L1635.1 691.11L1635.44 691.11L1635.78 691.1L1636.12 691.09L1636.46 691.08L1636.8 691.07L1637.14 691.06L1637.49 691.05L1637.83 691.04L1638.17 691.02L1638.51 691.01L1638.85 690.99L1639.19 690.97L1639.53 690.95L1639.87 690.92L1640.21 690.89L1640.56 690.86L1640.9 690.83L1641.24 690.79L1641.58 690.75L1641.92 690.71L1642.26 690.66L1642.6 690.6L1642.94 690.54L1643.28 690.48L1643.62 690.4L1643.97 690.32L1644.31 690.23L1644.65 690.13L1644.99 690.02L1645.33 689.89L1645.67 689.76L1646.01 689.61L1646.35 689.44L1646.69 689.26L1647.03 689.05L1647.38 688.83L1647.72 688.58L1648.06 688.31L1648.4 688L1648.74 687.67L1649.08 687.3L1649.42 686.89L1649.76 686.44L1650.1 685.94L1650.45 685.39L1650.79 684.78L1651.13 684.11L1651.47 683.37L1651.81 682.55L1652.15 681.65L1652.49 680.65L1652.83 679.56L1653.17 678.35L1653.51 677.03L1653.86 675.57L1654.2 673.96L1654.54 672.2L1654.88 670.26L1655.22 668.13L1655.56 665.8L1655.9 663.24L1656.24 660.45L1656.58 657.39L1656.92 654.05L1657.27 650.42L1657.61 646.46L1657.95 642.16L1658.29 637.5L1658.63 632.46L1658.97 627.01L1659.31 621.14L1659.65 614.84L1659.99 608.09L1660.34 600.9L1660.68 593.24L1661.02 585.14L1661.36 576.6L1661.7 567.64L1662.04 558.3L1662.38 548.61L1662.72 538.64L1663.06 528.44L1663.4 518.1L1663.75 507.71L1664.09 497.38L1664.43 487.22L1664.77 477.37L1665.11 467.96L1665.45 459.12L1665.79 451.01L1666.13 443.75L1666.47 437.47L1666.81 432.28L1667.16 428.29L1667.5 425.57L1667.84 424.18L1668.18 424.13L1668.52 425.45L1668.86 428.08L1669.2 431.99L1669.54 437.09L1669.88 443.29L1670.23 450.47L1670.57 458.5L1670.91 467.24L1671.25 476.56L1671.59 486.31L1671.93 496.36L1672.27 506.59L1672.61 516.87L1672.95 527.1L1673.29 537.18L1673.64 547.03L1673.98 556.59L1674.32 565.8L1674.66 574.62L1675 583.02L1675.34 590.98L1675.68 598.49L1676.02 605.53L1676.36 612.12L1676.7 618.26L1677.05 623.96L1677.39 629.24L1677.73 634.11L1678.07 638.59L1678.41 642.71L1678.75 646.48L1679.09 649.92L1679.43 653.06L1679.77 655.92L1680.12 658.52L1680.46 660.87L1680.8 663L1681.14 664.92L1681.48 666.64L1681.82 668.19L1682.16 669.59L1682.5 670.83L1682.84 671.94L1683.18 672.92L1683.53 673.79L1683.87 674.56L1684.21 675.24L1684.55 675.83L1684.89 676.35L1685.23 676.79L1685.57 677.18L1685.91 677.5L1686.25 677.77L1686.59 678L1686.94 678.18L1687.28 678.33L1687.62 678.44L1687.96 678.52L1688.3 678.58L1688.64 678.6L1688.98 678.61L1689.32 678.6L1689.66 678.57L1690.01 678.52L1690.35 678.46L1690.69 678.39L1691.03 678.3L1691.37 678.21L1691.71 678.11L1692.05 678.01L1692.39 677.9L1692.73 677.78L1693.07 677.66L1693.42 677.54L1693.76 677.42L1694.1 677.29L1694.44 677.16L1694.78 677.04L1695.12 676.91L1695.46 676.79L1695.8 676.66L1696.14 676.54L1696.48 676.42L1696.83 676.31L1697.17 676.19L1697.51 676.08L1697.85 675.97L1698.19 675.87L1698.53 675.77L1698.87 675.68L1699.21 675.59L1699.55 675.5L1699.9 675.42L1700.24 675.34L1700.58 675.27L1700.92 675.21L1701.26 675.15L1701.6 675.09L1701.94 675.04L1702.28 675L1702.62 674.96L1702.96 674.93L1703.31 674.9L1703.65 674.88L1703.99 674.87L1704.33 674.86L1704.67 674.86L1705.01 674.86L1705.35 674.87L1705.69 674.88L1706.03 674.89L1706.37 674.91L1706.72 674.93L1707.06 674.95L1707.4 674.98L1707.74 675.01L1708.08 675.04L1708.42 675.07L1708.76 675.11L1709.1 675.16L1709.44 675.2L1709.79 675.25L1710.13 675.3L1710.47 675.36L1710.81 675.42L1711.15 675.48L1711.49 675.54L1711.83 675.61L1712.17 675.68L1712.51 675.76L1712.85 675.83L1713.2 675.91L1713.54 676L1713.88 676.08L1714.22 676.17L1714.56 676.26L1714.9 676.36L1715.24 676.45L1715.58 676.55L1715.92 676.66L1716.26 676.76L1716.61 676.87L1716.95 676.98L1717.29 677.09L1717.63 677.21L1717.97 677.33L1718.31 677.45L1718.65 677.57L1718.99 677.69L1719.33 677.82L1719.68 677.95L1720.02 678.08L1720.36 678.22L1720.7 678.35L1721.04 678.49L1721.38 678.63L1721.72 678.77L1722.06 678.91L1722.4 679.06L1722.74 679.21L1723.09 679.35L1723.43 679.5L1723.77 679.65L1724.11 679.81L1724.45 679.96L1724.79 680.12L1725.13 680.27L1725.47 680.43L1725.81 680.59L1726.15 680.75L1726.5 680.91L1726.84 681.07L1727.18 681.23L1727.52 681.4L1727.86 681.56L1728.2 681.72L1728.54 681.89L1728.88 682.05L1729.22 682.22L1729.57 682.39L1729.91 682.55L1730.25 682.72L1730.59 682.89L1730.93 683.05L1731.27 683.22L1731.61 683.39L1731.95 683.55L1732.29 683.72L1732.63 683.88L1732.98 684.05L1733.32 684.22L1733.66 684.38L1734 684.54L1734.34 684.71L1734.68 684.87L1735.02 685.03L1735.36 685.19L1735.7 685.35L1736.04 685.51L1736.39 685.67L1736.73 685.83L1737.07 685.99L1737.41 686.14L1737.75 686.29L1738.09 686.45L1738.43 686.6L1738.77 686.75L1739.11 686.89L1739.46 687.04L1739.8 687.18L1740.14 687.33L1740.48 687.47L1740.82 687.61L1741.16 687.74L1741.5 687.88L1741.84 688.01L1742.18 688.14L1742.52 688.27L1742.87 688.4L1743.21 688.52L1743.55 688.64L1743.89 688.76L1744.23 688.88L1744.57 689L1744.91 689.11L1745.25 689.22L1745.59 689.32L1745.93 689.43L1746.28 689.53L1746.62 689.63L1746.96 689.73L1747.3 689.82L1747.64 689.91L1747.98 690L1748.32 690.08L1748.66 690.17L1749 690.24L1749.35 690.32L1749.69 690.39L1750.03 690.46L1750.37 690.53L1750.71 690.59L1751.05 690.65L1751.39 690.71L1751.73 690.76L1752.07 690.82L1752.41 690.86L1752.76 690.91L1753.1 690.95L1753.44 690.99L1753.78 691.02L1754.12 691.05L1754.46 691.08L1754.8 691.1L1755.14 691.12L1755.48 691.14L1755.82 691.15L1756.17 691.16L1756.51 691.17L1756.85 691.18L1757.19 691.18L1757.53 691.18L1757.87 691.18L1758.21 691.18L1758.55 691.18L1758.89 691.18L1759.24 691.18L1759.58 691.18L1759.92 691.18L1760.26 691.18L1760.6 691.18L1760.94 691.18L1761.28 691.18L1761.62 691.18L1761.96 691.18L1762.3 691.18L1762.65 691.18L1762.99 691.18L1763.33 691.18L1763.67 691.18L1764.01 691.18L1764.35 691.18L1764.69 691.18L1765.03 691.18L1765.37 691.18L1765.71 691.18L1766.06 691.18L1766.4 691.17L1766.74 691.17L1767.08 691.16L1767.42 691.15L1767.76 691.14L1768.1 691.13L1768.44 691.11L1768.78 691.1L1769.13 691.08L1769.47 691.05L1769.81 691.03L1770.15 691L1770.49 690.97L1770.83 690.94L1771.17 690.91L1771.51 690.87L1771.85 690.83L1772.19 690.79L1772.54 690.75L1772.88 690.7L1773.22 690.65L1773.56 690.6L1773.9 690.55L1774.24 690.5L1774.58 690.44L1774.92 690.39L1775.26 690.32L1775.6 690.26L1775.95 690.2L1776.29 690.13L1776.63 690.06L1776.97 689.99L1777.31 689.92L1777.65 689.85L1777.99 689.77L1778.33 689.69L1778.67 689.61L1779.02 689.53L1779.36 689.44L1779.7 689.36L1780.04 689.27L1780.38 689.18L1780.72 689.09L1781.06 688.99L1781.4 688.9L1781.74 688.8L1782.08 688.7L1782.43 688.6L1782.77 688.5L1783.11 688.4L1783.45 688.29L1783.79 688.18L1784.13 688.08L1784.47 687.97L1784.81 687.85L1785.15 687.74L1785.49 687.63L1785.84 687.51L1786.18 687.39L1786.52 687.28L1786.86 687.16L1787.2 687.03L1787.54 686.91L1787.88 686.79L1788.22 686.66L1788.56 686.54L1788.91 686.41L1789.25 686.28L1789.59 686.15L1789.93 686.02L1790.27 685.89L1790.61 685.76L1790.95 685.62L1791.29 685.49L1791.63 685.36L1791.97 685.22L1792.32 685.08L1792.66 684.94L1793 684.81L1793.34 684.67L1793.68 684.53L1794.02 684.39L1794.36 684.25L1794.7 684.1L1795.04 683.96L1795.38 683.82L1795.73 683.68L1796.07 683.53L1796.41 683.39L1796.75 683.25L1797.09 683.1L1797.43 682.96L1797.77 682.81L1798.11 682.67L1798.45 682.52L1798.79 682.37L1799.14 682.23L1799.48 682.08L1799.82 681.94L1800.16 681.79L1800.5 681.65L1800.84 681.5L1801.18 681.35L1801.52 681.21L1801.86 681.06L1802.21 680.92L1802.55 680.77L1802.89 680.63L1803.23 680.49L1803.57 680.34L1803.91 680.2L1804.25 680.06L1804.59 679.91L1804.93 679.77L1805.27 679.63L1805.62 679.49L1805.96 679.35L1806.3 679.21L1806.64 679.07L1806.98 678.94L1807.32 678.8L1807.66 678.66L1808 678.53L1808.34 678.39L1808.68 678.26L1809.03 678.13L1809.37 678L1809.71 677.86L1810.05 677.73L1810.39 677.61L1810.73 677.48L1811.07 677.35L1811.41 677.23L1811.75 677.1L1812.1 676.98L1812.44 676.86L1812.78 676.74L1813.12 676.62L1813.46 676.5L1813.8 676.39L1814.14 676.27L1814.48 676.16L1814.82 676.05L1815.16 675.94L1815.51 675.83L1815.85 675.72L1816.19 675.62L1816.53 675.51L1816.87 675.41L1817.21 675.31L1817.55 675.21L1817.89 675.11L1818.23 675.02L1818.57 674.92L1818.92 674.83L1819.26 674.74L1819.6 674.65L1819.94 674.57L1820.28 674.48L1820.62 674.4L1820.96 674.32L1821.3 674.24L1821.64 674.16L1821.99 674.09L1822.33 674.01L1822.67 673.94L1823.01 673.88L1823.35 673.81L1823.69 673.74L1824.03 673.68L1824.37 673.62L1824.71 673.56L1825.05 673.51L1825.4 673.45L1825.74 673.4L1826.08 673.35L1826.42 673.3L1826.76 673.26L1827.1 673.21L1827.44 673.17L1827.78 673.13L1828.12 673.1L1828.46 673.06L1828.81 673.03L1829.15 673L1829.49 672.97L1829.83 672.95L1830.17 672.92L1830.51 672.9L1830.85 672.88L1831.19 672.87L1831.53 672.85L1831.88 672.84L1832.22 672.83L1832.56 672.83L1832.9 672.82L1833.24 672.82L1833.58 672.82L1833.92 672.82L1834.26 672.83L1834.6 672.83L1834.94 672.84L1835.29 672.85L1835.63 672.86L1835.97 672.88L1836.31 672.9L1836.65 672.91L1836.99 672.94L1837.33 672.96L1837.67 672.98L1838.01 673.01L1838.35 673.04L1838.7 673.07L1839.04 673.11L1839.38 673.14L1839.72 673.18L1840.06 673.22L1840.4 673.26L1840.74 673.3L1841.08 673.35L1841.42 673.4L1841.77 673.45L1842.11 673.5L1842.45 673.55L1842.79 673.61L1843.13 673.67L1843.47 673.73L1843.81 673.79L1844.15 673.85L1844.49 673.91L1844.83 673.98L1845.18 674.05L1845.52 674.12L1845.86 674.19L1846.2 674.27L1846.54 674.34L1846.88 674.42L1847.22 674.5L1847.56 674.58L1847.9 674.67L1848.24 674.75L1848.59 674.84L1848.93 674.93L1849.27 675.01L1849.61 675.11L1849.95 675.2L1850.29 675.29L1850.63 675.39L1850.97 675.49L1851.31 675.59L1851.66 675.69L1852 675.79L1852.34 675.89L1852.68 676L1853.02 676.1L1853.36 676.21L1853.7 676.32L1854.04 676.43L1854.38 676.54L1854.72 676.65L1855.07 676.77L1855.41 676.88L1855.75 677L1856.09 677.12L1856.43 677.23L1856.77 677.35L1857.11 677.48L1857.45 677.6L1857.79 677.72L1858.13 677.84L1858.48 677.97L1858.82 678.09L1859.16 678.22L1859.5 678.35L1859.84 678.48L1860.18 678.61L1860.52 678.74L1860.86 678.87L1861.2 679L1861.55 679.13L1861.89 679.26L1862.23 679.4L1862.57 679.53L1862.91 679.66L1863.25 679.8L1863.59 679.94L1863.93 680.07L1864.27 680.21L1864.61 680.35L1864.96 680.48L1865.3 680.62L1865.64 680.76L1865.98 680.9L1866.32 681.03L1866.66 681.17L1867 681.31L1867.34 681.45L1867.68 681.59L1868.02 681.73L1868.37 681.87L1868.71 682.01L1869.05 682.15L1869.39 682.29L1869.73 682.43L1870.07 682.57L1870.41 682.71L1870.75 682.84L1871.09 682.98L1871.44 683.12L1871.78 683.26L1872.12 683.4L1872.46 683.54L1872.8 683.67L1873.14 683.81L1873.48 683.95L1873.82 684.08L1874.16 684.22L1874.5 684.35L1874.85 684.49L1875.19 684.62L1875.53 684.75L1875.87 684.89L1876.21 685.02L1876.55 685.15L1876.89 685.28L1877.23 685.41L1877.57 685.54L1877.91 685.67L1878.26 685.79L1878.6 685.92L1878.94 686.05L1879.28 686.17L1879.62 686.3L1879.96 686.42L1880.3 686.54L1880.64 686.66L1880.98 686.78L1881.33 686.9L1881.67 687.02L1882.01 687.13L1882.35 687.25L1882.69 687.36L1883.03 687.47L1883.37 687.58L1883.71 687.69L1884.05 687.8L1884.39 687.91L1884.74 688.02L1885.08 688.12L1885.42 688.22L1885.76 688.33L1886.1 688.43L1886.44 688.52L1886.78 688.62L1887.12 688.72L1887.46 688.81L1887.8 688.9L1888.15 689L1888.49 689.08L1888.83 689.17L1889.17 689.26L1889.51 689.34L1889.85 689.43L1890.19 689.51L1890.53 689.59L1890.87 689.66L1891.22 689.74L1891.56 689.81L1891.9 689.89L1892.24 689.96L1892.58 690.02L1892.92 690.09L1893.26 690.16L1893.6 690.22L1893.94 690.28L1894.28 690.34L1894.63 690.4L1894.97 690.45L1895.31 690.5L1895.65 690.55L1895.99 690.6L1896.33 690.65L1896.67 690.7L1897.01 690.74L1897.35 690.78L1897.69 690.82L1898.04 690.86L1898.38 690.89L1898.72 690.92L1899.06 690.95L1899.4 690.98L1899.74 691.01L1900.08 691.03L1900.42 691.06L1900.76 691.08L1901.11 691.09L1901.45 691.11L1901.79 691.12L1902.13 691.13L1902.47 691.14L1902.81 691.15L1903.15 691.16L1903.49 691.16L1903.83 691.16L1904.17 691.16L1904.52 691.15L1904.86 691.15L1905.2 691.15L1905.54 691.15L1905.88 691.14L1906.22 691.14L1906.56 691.14L1906.9 691.13L1907.24 691.13L1907.58 691.12L1907.93 691.11L1908.27 691.11L1908.61 691.1L1908.95 691.09L1909.29 691.08L1909.63 691.07L1909.97 691.06L1910.31 691.05L1910.65 691.04L1911 691.02L1911.34 691.01L1911.68 690.99L1912.02 690.97L1912.36 690.95L1912.7 690.93L1913.04 690.9L1913.38 690.87L1913.72 690.84L1914.06 690.8L1914.41 690.76L1914.75 690.72L1915.09 690.67L1915.43 690.61L1915.77 690.55L1916.11 690.49L1916.45 690.41L1916.79 690.33L1917.13 690.24L1917.47 690.14L1917.82 690.04L1918.16 689.91L1918.5 689.78L1918.84 689.63L1919.18 689.47L1919.52 689.29L1919.86 689.09L1920.2 688.87L1920.54 688.62L1920.89 688.35L1921.23 688.05L1921.57 687.72L1921.91 687.36L1922.25 686.95L1922.59 686.51L1922.93 686.02L1923.27 685.47L1923.61 684.88L1923.95 684.21L1924.3 683.48L1924.64 682.68L1924.98 681.79L1925.32 680.81L1925.66 679.73L1926 678.55L1926.34 677.24L1926.68 675.8L1927.02 674.22L1927.36 672.48L1927.71 670.56L1928.05 668.47L1928.39 666.17L1928.73 663.65L1929.07 660.89L1929.41 657.87L1929.75 654.58L1930.09 650.99L1930.43 647.09L1930.78 642.84L1931.12 638.24L1931.46 633.25L1931.8 627.87L1932.14 622.06L1932.48 615.83L1932.82 609.15L1933.16 602.02L1933.5 594.44L1933.84 586.41L1934.19 577.93L1934.53 569.04L1934.87 559.75L1935.21 550.11L1935.55 540.18L1935.89 530.01L1936.23 519.68L1936.57 509.29L1936.91 498.95L1937.25 488.76L1937.6 478.85L1937.94 469.36L1938.28 460.43L1938.62 452.19L1938.96 444.79L1939.3 438.36L1939.64 433.01L1939.98 428.84L1940.32 425.93L1940.67 424.35L1941.01 424.11L1941.35 425.23L1941.69 427.68L1942.03 431.41L1942.37 436.34L1942.71 442.39L1943.05 449.44L1943.39 457.36L1943.73 466.02L1944.08 475.27L1944.42 484.97L1944.76 495L1945.1 505.22L1945.44 515.51L1945.78 525.76L1946.12 535.88L1946.46 545.79L1946.8 555.4L1947.14 564.68L1947.49 573.58L1947.83 582.05L1948.17 590.09L1948.51 597.67L1948.85 604.8L1949.19 611.47L1949.53 617.68L1949.87 623.46L1950.21 628.8L1950.56 633.74L1950.9 638.29L1951.24 642.47L1951.58 646.3L1951.92 649.8L1952.26 652.99L1952.6 655.9L1952.94 658.54L1953.28 660.93L1953.62 663.1L1953.97 665.05L1954.31 666.81L1954.65 668.39L1954.99 669.81L1955.33 671.08L1955.67 672.21L1956.01 673.22L1956.35 674.11L1956.69 674.9L1957.03 675.59L1957.38 676.2L1957.72 676.72L1958.06 677.18L1958.4 677.57L1958.74 677.9L1959.08 678.19L1959.42 678.42L1959.76 678.61L1960.1 678.76L1960.45 678.87L1960.79 678.96L1961.13 679.01L1961.47 679.04L1961.81 679.05L1962.15 679.03L1962.49 679L1962.83 678.95L1963.17 678.89L1963.51 678.81L1963.86 678.73L1964.2 678.63L1964.54 678.53L1964.88 678.42L1965.22 678.3L1965.56 678.18L1965.9 678.05L1966.24 677.92L1966.58 677.79L1966.92 677.66L1967.27 677.53L1967.61 677.39L1967.95 677.26L1968.29 677.12L1968.63 676.99L1968.97 676.86L1969.31 676.73L1969.65 676.6L1969.99 676.48L1970.34 676.36L1970.68 676.24L1971.02 676.13L1971.36 676.02L1971.7 675.91L1972.04 675.81L1972.38 675.71L1972.72 675.62L1973.06 675.53L1973.4 675.44L1973.75 675.37L1974.09 675.29L1974.43 675.23L1974.77 675.16L1975.11 675.11L1975.45 675.06L1975.79 675.01L1976.13 674.97L1976.47 674.94L1976.81 674.91L1977.16 674.89L1977.5 674.87L1977.84 674.87L1978.18 674.86L1978.52 674.87L1978.86 674.87L1979.2 674.88L1979.54 674.89L1979.88 674.9L1980.23 674.92L1980.57 674.94L1980.91 674.96L1981.25 674.99L1981.59 675.01L1981.93 675.04L1982.27 675.08L1982.61 675.11L1982.95 675.15L1983.29 675.2L1983.64 675.24L1983.98 675.29L1984.32 675.34L1984.66 675.39L1985 675.45L1985.34 675.51L1985.68 675.57L1986.02 675.63L1986.36 675.7L1986.7 675.77L1987.05 675.84L1987.39 675.91L1987.73 675.99L1988.07 676.07L1988.41 676.15L1988.75 676.24L1989.09 676.33L1989.43 676.42L1989.77 676.51L1990.12 676.6L1990.46 676.7L1990.8 676.8L1991.14 676.9L1991.48 677L1991.82 677.11L1992.16 677.22L1992.5 677.32L1992.84 677.44L1993.18 677.55L1993.53 677.67L1993.87 677.78L1994.21 677.9L1994.55 678.03L1994.89 678.15L1995.23 678.28L1995.57 678.4L1995.91 678.53L1996.25 678.66L1996.59 678.79L1996.94 678.93L1997.28 679.06L1997.62 679.2L1997.96 679.34L1998.3 679.47L1998.3 692Z" fill="#1f4ba0" stroke="#1f4ba0" stroke-width="2.6" stroke-linejoin="round" clip-path="url(#cliph)"/>
<text transform="translate(1588.9 720.9) scale(1 1.025)" font-family="'Liberation Sans', sans-serif" font-size="22.3" text-anchor="middle" fill="#404040" stroke="#404040" stroke-width="0.2" font-weight="normal">-1</text>
<text transform="translate(1691.12 720.9) scale(1 1.025)" font-family="'Liberation Sans', sans-serif" font-size="22.3" text-anchor="middle" fill="#404040" stroke="#404040" stroke-width="0.2" font-weight="normal">-0.5</text>
<text transform="translate(1793.35 720.9) scale(1 1.025)" font-family="'Liberation Sans', sans-serif" font-size="22.3" text-anchor="middle" fill="#404040" stroke="#404040" stroke-width="0.2" font-weight="normal">0</text>
<text transform="translate(1895.58 720.9) scale(1 1.025)" font-family="'Liberation Sans', sans-serif" font-size="22.3" text-anchor="middle" fill="#404040" stroke="#404040" stroke-width="0.2" font-weight="normal">0.5</text>
<text transform="translate(1997.8 720.9) scale(1 1.025)" font-family="'Liberation Sans', sans-serif" font-size="22.3" text-anchor="middle" fill="#404040" stroke="#404040" stroke-width="0.2" font-weight="normal">1</text>
<text transform="translate(1581.8 699.9) scale(1 1.025)" font-family="'Liberation Sans', sans-serif" font-size="22.3" text-anchor="end" fill="#404040" stroke="#404040" stroke-width="0.2" font-weight="normal">0</text>
<text transform="translate(1581.8 624.98) scale(1 1.025)" font-family="'Liberation Sans', sans-serif" font-size="22.3" text-anchor="end" fill="#404040" stroke="#404040" stroke-width="0.2" font-weight="normal">2</text>
<text transform="translate(1581.8 550.05) scale(1 1.025)" font-family="'Liberation Sans', sans-serif" font-size="22.3" text-anchor="end" fill="#404040" stroke="#404040" stroke-width="0.2" font-weight="normal">4</text>
<text transform="translate(1581.8 475.12) scale(1 1.025)" font-family="'Liberation Sans', sans-serif" font-size="22.3" text-anchor="end" fill="#404040" stroke="#404040" stroke-width="0.2" font-weight="normal">6</text>
<text transform="translate(1581.8 400.2) scale(1 1.025)" font-family="'Liberation Sans', sans-serif" font-size="22.3" text-anchor="end" fill="#404040" stroke="#404040" stroke-width="0.2" font-weight="normal">8</text>
<text x="1596.6" y="417.9" font-family="'Liberation Sans', sans-serif" font-size="21.7" font-weight="bold" fill="#1a1a1a" stroke="#1a1a1a" stroke-width="0.55" stroke-linejoin="round" textLength="12.46" lengthAdjust="spacingAndGlyphs">h</text>
<text transform="translate(1551.3 544.15) rotate(-90) scale(1 1.025)" font-family="'Liberation Sans', sans-serif" font-size="24.85" text-anchor="middle" fill="#404040" stroke="#404040" stroke-width="0.2" font-weight="normal">Pulse power (arb. units)</text>
<text x="1793.5" y="753.3" font-family="'Liberation Serif', serif" font-size="25" text-anchor="middle" fill="#404040"><tspan font-style="italic">θ</tspan>/<tspan font-style="italic">π</tspan></text>
<rect x="1719" y="415.2" width="169.2" height="137.5" rx="14" ry="14" fill="#fff" stroke="#9a9a9a" stroke-width="1.7"/>
<path d="M1726.4 522.97L1726.5 521.65L1726.76 520.47L1727.25 519.15L1727.86 517.99L1728.64 516.83L1729.57 515.69L1730.82 514.42L1732.09 513.31L1735.31 511.02L1739.19 508.83L1743.71 506.78L1748.8 504.89L1754.43 503.16L1760.53 501.62L1766.66 500.35L1773.52 499.21L1780.68 498.3L1788.05 497.63L1795.58 497.19L1803.18 497L1810.78 497.06L1818.31 497.36L1825.7 497.91L1832.87 498.7L1839.75 499.71L1846.27 500.95L1852.38 502.4L1857.69 503.94L1862.82 505.74L1867.36 507.72L1871.28 509.83L1874.54 512.06L1875.98 513.29L1877.1 514.4L1878.16 515.67L1878.94 516.81L1879.55 517.97L1880 519.13L1880.3 520.45L1880.4 521.63L1880.4 519.86L1880.32 518.83L1880.12 517.8L1879.34 515.75L1878.27 513.96L1875.2 509.72L1874.36 508.22L1873.65 506.6L1872.9 504.39L1872.31 502.19L1871.28 496.96L1870.19 488.89L1869.05 476.92L1868.1 464.17L1866.35 437.87L1865.56 427.81L1864.76 420.71L1864.21 418.3L1863.94 417.89L1863.66 418.01L1863.38 418.68L1863.1 419.86L1862.24 426.12L1858.94 462.98L1858.01 471.48L1857.05 478.37L1856.4 482.08L1855.75 485.16L1855.09 487.66L1854.42 489.68L1853.75 491.27L1853.07 492.5L1852.38 493.44L1851.33 494.42L1850.63 494.83L1849.56 495.19L1848.48 495.32L1847.01 495.23L1844.39 494.69L1836.95 492.63L1832.87 491.76L1827.83 491.11L1822.25 490.79L1816.55 490.83L1810.34 491.22L1803.63 491.99L1796.02 493.17L1762.41 499.44L1748.17 502.84L1743.14 504.19L1738.95 505.45L1735.73 506.59L1733.15 507.7L1730.97 508.88L1729.32 510.05L1728.04 511.32L1727.12 512.69L1726.58 514.18L1726.4 515.79Z" fill="#2eaae1" stroke="#2eaae1" stroke-width="0.5" stroke-linejoin="round"/>
<path d="M1726.4 515.79L1726.58 514.18L1727.12 512.69L1728.04 511.32L1729.32 510.05L1730.97 508.88L1733.15 507.7L1735.73 506.59L1738.95 505.45L1743.14 504.19L1748.17 502.84L1762.41 499.44L1796.02 493.17L1803.63 491.99L1810.34 491.22L1816.55 490.83L1822.25 490.79L1827.83 491.11L1832.87 491.76L1836.95 492.63L1844.39 494.69L1847.01 495.23L1848.48 495.32L1849.56 495.19L1850.63 494.83L1851.33 494.42L1852.38 493.44L1853.07 492.5L1853.75 491.27L1854.42 489.68L1855.09 487.66L1855.75 485.16L1856.4 482.08L1857.05 478.37L1858.01 471.48L1858.94 462.98L1862.24 426.12L1863.1 419.86L1863.38 418.68L1863.66 418.01L1863.94 417.89L1864.21 418.3L1864.76 420.71L1865.56 427.81L1866.35 437.87L1868.1 464.17L1869.05 476.92L1870.19 488.89L1871.28 496.96L1872.31 502.19L1872.9 504.39L1873.65 506.6L1874.36 508.22L1875.2 509.72L1878.27 513.96L1879.34 515.75L1880.12 517.8L1880.32 518.83L1880.4 519.86" fill="none" stroke="#2346a0" stroke-width="1.25" stroke-linejoin="round" stroke-linecap="round"/>
<path d="M1880.4 521.63L1880.3 522.95L1880.04 524.13L1879.55 525.45L1878.94 526.61L1878.16 527.77L1877.23 528.91L1875.98 530.18L1874.71 531.29L1871.49 533.58L1867.61 535.77L1863.09 537.82L1858 539.71L1852.37 541.44L1846.27 542.98L1840.14 544.25L1833.28 545.39L1826.12 546.3L1818.75 546.97L1811.22 547.41L1803.62 547.6L1796.02 547.54L1788.49 547.24L1781.1 546.69L1773.93 545.9L1767.05 544.89L1760.53 543.65L1754.42 542.2L1749.11 540.66L1743.98 538.86L1739.44 536.88L1735.52 534.77L1732.26 532.54L1730.82 531.31L1729.7 530.2L1728.64 528.93L1727.86 527.79L1727.25 526.63L1726.8 525.47L1726.5 524.15L1726.4 522.97L1726.4 515.79L1726.55 517.22L1726.9 518.57L1727.53 520.13L1728.33 521.59L1729.45 523.24L1730.67 524.77L1732.09 526.31L1733.71 527.86L1735.52 529.41L1737.51 530.95L1741.77 533.76L1746.33 536.25L1751.38 538.52L1754.42 539.68L1757.24 540.62L1763.17 542.25L1769.04 543.44L1776.01 544.4L1783.25 545.02L1786.29 545.11L1788.49 545.06L1790.25 544.91L1792.02 544.6L1793.79 544.07L1795.13 543.45L1796.46 542.58L1797.8 541.34L1799.14 539.63L1800.04 538.15L1800.93 536.33L1801.83 534.11L1802.72 531.42L1803.62 528.2L1804.52 524.37L1805.41 519.89L1806.76 511.91L1808.1 502.52L1810.78 481.9L1812.11 472.94L1813 468.48L1813.45 466.86L1813.89 465.69L1814.33 465L1814.78 464.82L1815.22 465.13L1815.66 465.95L1816.11 467.23L1816.55 468.96L1817.43 473.56L1818.75 482.54L1822.24 508.72L1823.54 516.71L1824.84 523.17L1826.12 528.18L1826.98 530.81L1827.83 532.94L1828.68 534.65L1829.52 536L1830.36 537.04L1831.2 537.84L1832.03 538.43L1832.86 538.85L1834.51 539.29L1836.55 539.35L1838.95 538.98L1842.48 538.01L1852.03 534.78L1865.03 530.82L1870.63 528.95L1873.09 527.98L1875.2 526.99L1876.83 526.02L1878.16 524.96L1879.19 523.81L1879.85 522.65L1880.28 521.25L1880.4 519.86Z" fill="#2eaae1" stroke="#2eaae1" stroke-width="0.5" stroke-linejoin="round"/>
<path d="M1880.4 519.86L1880.28 521.25L1879.85 522.65L1879.19 523.81L1878.16 524.96L1876.83 526.02L1875.2 526.99L1873.09 527.98L1870.63 528.95L1865.03 530.82L1852.03 534.78L1842.48 538.01L1838.95 538.98L1836.55 539.35L1834.51 539.29L1832.86 538.85L1832.03 538.43L1831.2 537.84L1830.36 537.04L1829.52 536L1828.68 534.65L1827.83 532.94L1826.98 530.81L1826.12 528.18L1824.84 523.17L1823.54 516.71L1822.24 508.72L1818.75 482.54L1817.43 473.56L1816.55 468.96L1816.11 467.23L1815.66 465.95L1815.22 465.13L1814.78 464.82L1814.33 465L1813.89 465.69L1813.45 466.86L1813 468.48L1812.11 472.94L1810.78 481.9L1808.1 502.52L1806.76 511.91L1805.41 519.89L1804.52 524.37L1803.62 528.2L1802.72 531.42L1801.83 534.11L1800.93 536.33L1800.04 538.15L1799.14 539.63L1797.8 541.34L1796.46 542.58L1795.13 543.45L1793.79 544.07L1792.02 544.6L1790.25 544.91L1788.49 545.06L1786.29 545.11L1783.25 545.02L1776.01 544.4L1769.04 543.44L1763.17 542.25L1757.24 540.62L1754.42 539.68L1751.38 538.52L1746.33 536.25L1741.77 533.76L1737.51 530.95L1735.52 529.41L1733.71 527.86L1732.09 526.31L1730.67 524.77L1729.45 523.24L1728.33 521.59L1727.53 520.13L1726.9 518.57L1726.55 517.22L1726.4 515.79" fill="none" stroke="#2346a0" stroke-width="1.25" stroke-linejoin="round" stroke-linecap="round"/>
</g>
</svg>
</body></html>
